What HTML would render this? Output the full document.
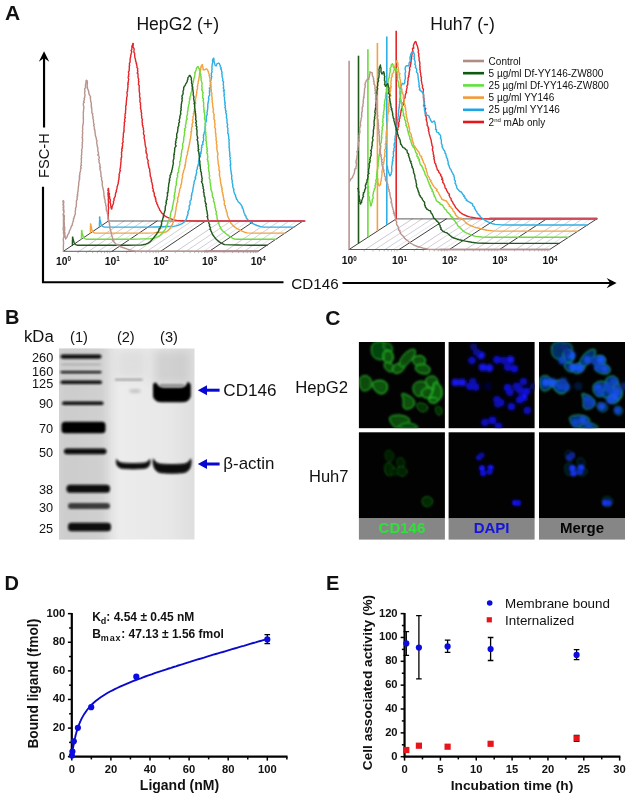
<!DOCTYPE html>
<html lang="en">
<head>
<meta charset="utf-8">
<title>Figure</title>
<style>
html,body{margin:0;padding:0;background:#fff;}
body{width:628px;height:797px;overflow:hidden;}
svg{display:block;font-family:"Liberation Sans",sans-serif;fill:#111;}
</style>
</head>
<body>
<svg width="628" height="797" viewBox="0 0 628 797">
<rect x="0" y="0" width="628" height="797" fill="#ffffff"/>
<g id="panelA" fill="none" stroke-linejoin="round" stroke-linecap="round">
<line x1="79.1" y1="251.3" x2="124.1" y2="221.0" stroke="#c6c2d0" stroke-width="0.9"/>
<line x1="88.6" y1="251.3" x2="133.6" y2="221.0" stroke="#d4c8cc" stroke-width="0.9"/>
<line x1="98.2" y1="251.3" x2="143.2" y2="221.0" stroke="#c4cad6" stroke-width="0.9"/>
<line x1="106.3" y1="251.3" x2="151.3" y2="221.0" stroke="#e6e1e4" stroke-width="0.9"/>
<line x1="127.7" y1="251.3" x2="172.7" y2="221.0" stroke="#c6c2d0" stroke-width="0.9"/>
<line x1="137.3" y1="251.3" x2="182.3" y2="221.0" stroke="#d4c8cc" stroke-width="0.9"/>
<line x1="146.9" y1="251.3" x2="191.9" y2="221.0" stroke="#c4cad6" stroke-width="0.9"/>
<line x1="154.9" y1="251.3" x2="199.9" y2="221.0" stroke="#e6e1e4" stroke-width="0.9"/>
<line x1="176.4" y1="251.3" x2="221.4" y2="221.0" stroke="#c6c2d0" stroke-width="0.9"/>
<line x1="185.9" y1="251.3" x2="230.9" y2="221.0" stroke="#d4c8cc" stroke-width="0.9"/>
<line x1="195.5" y1="251.3" x2="240.5" y2="221.0" stroke="#c4cad6" stroke-width="0.9"/>
<line x1="203.6" y1="251.3" x2="248.6" y2="221.0" stroke="#e6e1e4" stroke-width="0.9"/>
<line x1="225.0" y1="251.3" x2="270.0" y2="221.0" stroke="#c6c2d0" stroke-width="0.9"/>
<line x1="234.6" y1="251.3" x2="279.6" y2="221.0" stroke="#d4c8cc" stroke-width="0.9"/>
<line x1="244.2" y1="251.3" x2="289.2" y2="221.0" stroke="#c4cad6" stroke-width="0.9"/>
<line x1="252.2" y1="251.3" x2="297.2" y2="221.0" stroke="#e6e1e4" stroke-width="0.9"/>
<line x1="63.4" y1="251.3" x2="108.4" y2="221.0" stroke="#2a2a2a" stroke-width="0.9"/>
<line x1="112.0" y1="251.3" x2="157.1" y2="221.0" stroke="#2a2a2a" stroke-width="0.9"/>
<line x1="160.7" y1="251.3" x2="205.7" y2="221.0" stroke="#2a2a2a" stroke-width="0.9"/>
<line x1="209.3" y1="251.3" x2="254.3" y2="221.0" stroke="#2a2a2a" stroke-width="0.9"/>
<line x1="258.0" y1="251.3" x2="303.0" y2="221.0" stroke="#2a2a2a" stroke-width="0.9"/>
<line x1="63.4" y1="251.3" x2="258.0" y2="251.3" stroke="#333" stroke-width="0.8"/>
<line x1="108.4" y1="221.0" x2="303.0" y2="221.0" stroke="#333" stroke-width="0.8"/>
<line x1="78.0" y1="251.3" x2="78.0" y2="252.8" stroke="#777" stroke-width="0.5"/>
<line x1="86.6" y1="251.3" x2="86.6" y2="252.8" stroke="#777" stroke-width="0.5"/>
<line x1="92.7" y1="251.3" x2="92.7" y2="252.8" stroke="#777" stroke-width="0.5"/>
<line x1="97.4" y1="251.3" x2="97.4" y2="252.8" stroke="#777" stroke-width="0.5"/>
<line x1="101.3" y1="251.3" x2="101.3" y2="252.8" stroke="#777" stroke-width="0.5"/>
<line x1="104.5" y1="251.3" x2="104.5" y2="252.8" stroke="#777" stroke-width="0.5"/>
<line x1="107.3" y1="251.3" x2="107.3" y2="252.8" stroke="#777" stroke-width="0.5"/>
<line x1="109.8" y1="251.3" x2="109.8" y2="252.8" stroke="#777" stroke-width="0.5"/>
<line x1="126.7" y1="251.3" x2="126.7" y2="252.8" stroke="#777" stroke-width="0.5"/>
<line x1="135.3" y1="251.3" x2="135.3" y2="252.8" stroke="#777" stroke-width="0.5"/>
<line x1="141.3" y1="251.3" x2="141.3" y2="252.8" stroke="#777" stroke-width="0.5"/>
<line x1="146.1" y1="251.3" x2="146.1" y2="252.8" stroke="#777" stroke-width="0.5"/>
<line x1="149.9" y1="251.3" x2="149.9" y2="252.8" stroke="#777" stroke-width="0.5"/>
<line x1="153.2" y1="251.3" x2="153.2" y2="252.8" stroke="#777" stroke-width="0.5"/>
<line x1="156.0" y1="251.3" x2="156.0" y2="252.8" stroke="#777" stroke-width="0.5"/>
<line x1="158.5" y1="251.3" x2="158.5" y2="252.8" stroke="#777" stroke-width="0.5"/>
<line x1="175.3" y1="251.3" x2="175.3" y2="252.8" stroke="#777" stroke-width="0.5"/>
<line x1="183.9" y1="251.3" x2="183.9" y2="252.8" stroke="#777" stroke-width="0.5"/>
<line x1="190.0" y1="251.3" x2="190.0" y2="252.8" stroke="#777" stroke-width="0.5"/>
<line x1="194.7" y1="251.3" x2="194.7" y2="252.8" stroke="#777" stroke-width="0.5"/>
<line x1="198.6" y1="251.3" x2="198.6" y2="252.8" stroke="#777" stroke-width="0.5"/>
<line x1="201.8" y1="251.3" x2="201.8" y2="252.8" stroke="#777" stroke-width="0.5"/>
<line x1="204.6" y1="251.3" x2="204.6" y2="252.8" stroke="#777" stroke-width="0.5"/>
<line x1="207.1" y1="251.3" x2="207.1" y2="252.8" stroke="#777" stroke-width="0.5"/>
<line x1="224.0" y1="251.3" x2="224.0" y2="252.8" stroke="#777" stroke-width="0.5"/>
<line x1="232.6" y1="251.3" x2="232.6" y2="252.8" stroke="#777" stroke-width="0.5"/>
<line x1="238.6" y1="251.3" x2="238.6" y2="252.8" stroke="#777" stroke-width="0.5"/>
<line x1="243.4" y1="251.3" x2="243.4" y2="252.8" stroke="#777" stroke-width="0.5"/>
<line x1="247.2" y1="251.3" x2="247.2" y2="252.8" stroke="#777" stroke-width="0.5"/>
<line x1="250.5" y1="251.3" x2="250.5" y2="252.8" stroke="#777" stroke-width="0.5"/>
<line x1="253.3" y1="251.3" x2="253.3" y2="252.8" stroke="#777" stroke-width="0.5"/>
<line x1="255.8" y1="251.3" x2="255.8" y2="252.8" stroke="#777" stroke-width="0.5"/>
<path d="M108.4 221.0 L108.3 214.8 L108.3 212.8 L108.2 210.8 L108.7 207.7 L108.3 206.2 L108.3 204.3 L108.5 203.2 L108.4 200.5 L108.2 199.1 L108.6 197.6 L108.1 196.5 L108.3 195.4 L107.9 194.7 L108.1 194.1 L108.0 192.7 L108.3 192.6 L108.1 192.1 L108.5 191.6 L108.4 190.7 L107.8 190.2 L108.3 189.8 L108.4 189.6 L108.4 189.1 L108.0 189.0 L108.3 189.0 L108.2 189.0 L108.2 188.5 L108.7 188.5 L108.2 188.5 L108.4 188.7 L108.6 188.5 L108.3 189.1 L108.5 189.2 L108.8 191.0 L108.6 192.2 L109.1 193.4 L109.5 194.0 L109.0 195.3 L109.7 196.8 L109.7 198.6 L110.5 200.1 L110.0 202.0 L110.4 203.0 L110.7 204.4 L110.6 205.4 L111.0 206.7 L110.9 207.3 L111.6 208.8 L111.3 208.9 L111.7 209.0 L111.8 208.6 L112.1 207.7 L112.0 207.1 L113.3 203.7 L113.6 202.6 L113.3 201.8 L113.7 201.0 L114.2 200.0 L113.8 198.8 L114.4 198.0 L115.3 196.1 L115.4 194.4 L115.8 192.5 L116.5 191.5 L116.2 190.6 L116.5 190.2 L116.8 189.0 L117.1 187.4 L117.1 186.6 L117.6 185.6 L117.7 184.8 L118.2 183.7 L118.3 181.9 L118.6 181.4 L118.5 180.3 L119.0 179.3 L118.9 178.5 L119.2 177.6 L118.9 176.9 L119.4 175.6 L119.0 174.8 L119.1 174.0 L119.6 173.7 L119.6 172.5 L119.9 171.4 L120.5 170.7 L119.9 170.0 L120.1 168.7 L120.5 167.2 L120.5 166.2 L120.6 165.3 L120.9 163.8 L120.7 162.8 L121.0 161.7 L121.1 160.8 L120.9 159.4 L121.3 159.0 L121.1 158.0 L121.7 157.2 L121.6 156.3 L121.6 155.2 L121.5 154.1 L121.7 153.6 L121.4 152.5 L122.1 150.7 L121.6 149.8 L122.4 148.5 L121.8 148.3 L122.5 147.2 L122.2 146.5 L122.7 145.8 L122.6 144.5 L122.3 143.3 L123.0 142.5 L123.2 141.6 L122.9 140.8 L123.0 138.7 L122.9 138.3 L123.5 137.0 L123.2 136.5 L123.4 135.5 L123.3 134.6 L123.4 133.7 L123.4 132.7 L124.1 131.8 L123.8 130.7 L124.2 130.1 L123.9 128.7 L124.1 127.7 L124.1 126.7 L124.3 125.5 L124.4 123.8 L124.2 122.9 L124.4 122.0 L125.1 121.2 L124.6 120.2 L124.6 119.3 L125.4 117.5 L124.8 117.1 L125.1 115.7 L125.1 114.8 L124.9 114.1 L125.6 113.2 L125.5 111.9 L125.6 111.2 L125.5 110.5 L125.8 109.5 L125.7 108.6 L125.8 108.0 L125.7 106.6 L125.7 105.9 L126.4 104.9 L126.1 104.4 L126.3 102.8 L126.4 100.6 L126.7 99.7 L126.6 99.0 L126.7 97.5 L127.2 95.9 L127.2 94.3 L126.9 92.0 L127.5 91.4 L127.6 90.3 L127.4 89.6 L127.7 88.9 L128.0 86.1 L127.7 84.9 L128.3 84.2 L127.7 83.2 L128.3 82.3 L128.3 81.7 L128.4 80.6 L128.7 79.4 L128.7 79.0 L128.2 78.0 L128.1 77.2 L128.8 76.2 L128.4 75.4 L129.0 73.7 L128.5 72.7 L128.5 71.8 L129.2 70.9 L129.2 69.0 L129.4 68.1 L129.2 66.1 L129.6 65.7 L129.4 63.4 L130.0 62.4 L130.0 61.8 L130.2 60.9 L130.0 59.9 L130.2 59.2 L130.2 58.2 L130.8 56.2 L130.7 55.3 L131.1 54.3 L131.2 53.5 L131.8 51.6 L131.1 50.5 L131.9 49.3 L131.8 48.5 L132.0 47.1 L131.8 46.3 L132.7 44.7 L132.6 44.2 L132.8 43.9 L132.9 43.4 L133.4 43.6 L133.2 44.0 L132.8 44.6 L133.3 45.1 L133.1 45.6 L132.9 46.7 L134.2 49.0 L133.9 51.0 L134.0 52.5 L134.7 53.4 L134.6 54.5 L134.8 57.1 L135.5 59.5 L135.6 60.6 L135.6 61.2 L136.2 62.2 L136.2 63.5 L136.8 64.1 L136.5 64.7 L136.9 65.7 L137.1 66.6 L136.9 67.7 L137.7 68.3 L137.8 68.9 L137.4 70.1 L137.8 71.0 L137.8 71.9 L137.2 73.1 L138.0 73.8 L138.0 74.7 L138.1 75.3 L137.9 76.6 L138.3 78.3 L138.7 79.1 L138.5 80.0 L138.5 81.2 L139.0 81.6 L138.5 82.7 L138.6 83.7 L138.4 84.6 L139.2 85.3 L139.2 86.4 L139.2 88.1 L139.1 89.0 L139.2 89.7 L139.2 90.8 L139.4 92.4 L139.8 93.5 L139.6 95.1 L139.6 96.9 L140.2 98.2 L140.0 99.4 L139.9 101.8 L140.6 103.4 L140.3 104.6 L140.5 104.9 L140.6 106.3 L140.7 107.0 L140.4 108.2 L140.8 108.8 L140.8 109.6 L141.3 110.6 L141.0 111.6 L141.4 112.4 L141.7 113.4 L141.4 114.1 L141.4 114.7 L141.7 116.1 L141.8 117.0 L141.6 117.8 L142.5 119.8 L142.1 120.4 L142.2 121.2 L142.1 122.2 L142.6 123.4 L142.3 123.8 L142.4 125.2 L143.1 125.7 L142.7 126.5 L143.5 128.5 L143.3 129.2 L143.5 130.2 L143.9 131.4 L143.5 132.3 L143.5 134.0 L143.9 134.9 L144.4 135.5 L144.4 136.6 L144.0 137.4 L144.4 139.1 L144.7 140.1 L144.7 141.0 L145.1 142.7 L145.0 143.9 L145.4 145.7 L145.5 146.6 L146.2 148.6 L146.1 148.9 L146.1 150.1 L145.8 150.8 L146.4 152.1 L146.0 152.9 L146.3 153.1 L147.0 154.2 L147.1 155.4 L147.0 156.3 L146.8 157.2 L147.2 158.0 L147.3 158.9 L147.8 159.9 L148.3 160.6 L147.9 162.0 L148.0 163.4 L148.4 164.0 L148.5 165.3 L148.4 165.9 L148.9 166.7 L148.8 167.8 L149.5 168.5 L149.8 170.1 L149.6 171.3 L150.0 172.3 L150.3 175.0 L150.2 175.7 L150.4 176.6 L151.1 177.6 L151.0 178.6 L151.7 180.1 L151.2 181.0 L152.0 182.7 L152.2 183.9 L152.2 184.6 L152.7 185.6 L152.5 187.4 L152.7 188.3 L153.3 189.1 L153.4 190.4 L153.0 191.0 L154.0 192.2 L154.0 192.9 L154.4 193.5 L154.2 194.4 L154.4 195.5 L154.4 196.3 L155.5 197.1 L155.1 197.9 L155.8 198.5 L155.5 199.6 L156.0 200.1 L155.8 201.4 L157.0 202.9 L156.7 203.8 L157.6 204.7 L157.8 205.2 L157.8 206.0 L159.4 208.8 L159.7 210.1 L160.2 210.5 L160.8 211.5 L161.2 212.1 L161.8 213.0 L163.2 214.3 L163.6 215.0 L165.5 216.4 L166.3 216.7 L167.0 217.2 L170.3 218.7 L174.0 219.9 L176.8 220.4 L183.0 220.7 L189.3 220.9 L195.7 221.0 L202.0 221.0 L208.3 221.0 L214.6 221.0 L220.9 221.0 L227.2 221.0 L233.6 221.0 L239.9 221.0 L246.2 221.0 L252.5 221.0 L258.8 221.0 L265.1 221.0 L271.4 221.0 L277.7 221.0 L284.1 221.0 L290.4 221.0 L296.7 221.0 L303.0 221.0" stroke="#e3262a" stroke-width="1.40"/>
<path d="M99.4 227.1 L99.4 223.6 L99.7 219.0 L99.5 218.3 L99.5 217.6 L99.7 217.5 L99.4 217.3 L99.7 216.9 L99.8 217.8 L99.7 218.6 L100.6 221.8 L101.0 224.0 L101.3 224.8 L101.7 225.5 L102.4 226.2 L103.3 226.7 L104.2 227.0 L110.8 227.1 L116.9 227.1 L123.2 227.1 L129.7 227.1 L136.3 227.1 L142.8 227.1 L149.2 227.1 L155.6 227.0 L162.0 226.8 L168.4 226.5 L174.5 226.1 L176.2 225.9 L178.1 225.4 L180.9 224.2 L182.6 223.3 L184.0 222.1 L184.7 221.7 L184.8 221.1 L185.4 220.6 L185.6 219.9 L186.1 219.4 L186.5 218.7 L186.6 217.9 L187.1 217.1 L186.9 216.3 L187.7 215.5 L187.5 214.6 L188.1 213.9 L188.2 212.7 L187.7 212.2 L189.3 208.9 L189.2 207.9 L189.3 207.4 L189.1 205.9 L190.0 204.8 L190.2 203.9 L190.0 203.0 L190.1 202.5 L189.9 201.2 L190.7 200.4 L191.4 199.1 L191.1 198.5 L191.4 197.6 L191.5 197.0 L191.3 195.6 L192.0 195.0 L191.6 194.0 L192.7 191.3 L192.8 190.0 L193.0 189.7 L192.9 188.8 L193.0 187.7 L193.5 186.7 L193.5 185.2 L193.7 184.5 L194.1 183.7 L194.0 182.4 L194.3 181.8 L194.4 180.7 L195.0 179.9 L195.2 179.0 L195.8 178.1 L195.1 177.4 L195.5 176.4 L196.1 175.4 L196.0 174.5 L196.2 173.8 L196.8 172.6 L196.5 171.8 L196.5 171.0 L196.6 170.1 L197.2 169.3 L197.4 168.3 L197.2 167.9 L197.5 166.9 L198.0 165.8 L198.2 164.9 L198.1 164.4 L198.6 163.2 L198.8 162.2 L198.4 161.4 L199.3 159.9 L199.3 158.7 L199.1 158.2 L199.7 156.8 L200.2 156.2 L200.5 155.0 L199.8 154.6 L201.2 153.3 L200.5 152.5 L201.1 151.8 L201.4 151.0 L201.5 148.9 L201.4 147.8 L202.0 147.2 L201.6 145.4 L203.0 144.4 L202.7 143.6 L203.1 142.6 L202.6 142.0 L203.3 141.3 L203.7 139.2 L203.3 137.6 L203.7 136.4 L203.3 135.7 L203.6 134.6 L204.2 134.0 L204.1 133.0 L204.4 132.1 L204.5 131.3 L205.2 130.3 L205.1 129.2 L204.9 128.7 L205.4 127.7 L205.0 126.7 L205.7 125.2 L205.3 123.9 L205.6 123.1 L205.5 122.6 L206.0 121.7 L206.5 120.4 L206.0 119.4 L206.4 118.6 L206.2 117.7 L206.4 116.1 L207.1 114.9 L207.4 114.0 L207.1 113.5 L206.9 112.3 L207.4 111.6 L207.2 110.8 L207.6 109.9 L207.6 108.8 L207.9 106.9 L207.7 106.5 L207.9 105.4 L207.7 104.2 L208.1 103.5 L208.0 102.8 L208.4 101.8 L208.3 101.2 L208.7 100.2 L208.9 98.9 L208.5 98.1 L208.8 96.4 L209.4 95.5 L209.7 95.1 L209.4 92.4 L209.9 91.7 L209.3 91.0 L210.2 89.8 L209.3 88.2 L210.7 87.5 L210.6 86.5 L210.1 85.4 L210.5 84.9 L210.5 83.7 L210.6 82.8 L210.4 81.8 L210.6 81.0 L211.0 80.4 L211.1 79.0 L211.4 78.4 L211.2 77.7 L211.9 76.6 L211.2 75.8 L211.6 74.6 L211.2 74.1 L211.4 73.1 L212.1 71.8 L211.7 70.3 L212.1 69.2 L211.9 67.4 L212.1 65.9 L212.3 63.5 L212.7 62.6 L212.7 61.6 L212.5 60.8 L212.6 59.7 L213.0 59.5 L213.0 59.1 L213.4 58.3 L214.0 58.1 L213.7 58.4 L213.7 58.8 L213.9 59.3 L214.0 61.1 L215.0 65.0 L215.3 65.5 L216.1 65.9 L216.6 64.8 L216.9 63.8 L218.4 63.0 L219.4 63.6 L219.8 64.9 L220.3 65.6 L220.2 66.4 L220.6 67.1 L221.3 67.9 L220.6 68.9 L221.3 69.4 L221.6 70.6 L221.5 70.9 L221.8 71.9 L222.1 72.5 L221.7 73.6 L222.1 74.6 L222.0 75.7 L222.1 76.1 L222.3 77.2 L222.9 79.6 L222.5 80.8 L223.5 81.3 L223.4 83.5 L223.2 84.3 L223.6 86.0 L223.6 87.6 L223.2 87.9 L223.9 89.4 L224.5 90.2 L223.4 90.9 L224.2 91.7 L224.0 94.1 L224.5 94.6 L223.9 95.6 L224.3 96.8 L224.7 97.6 L224.4 98.8 L224.7 100.4 L224.6 101.0 L225.2 102.5 L224.7 102.9 L225.2 103.5 L224.8 104.8 L225.4 105.7 L225.3 107.0 L224.8 107.4 L225.5 108.4 L225.4 109.4 L225.6 110.5 L226.2 111.1 L225.7 112.2 L225.8 113.0 L226.5 113.7 L226.3 114.7 L226.7 115.6 L226.3 117.6 L226.6 118.0 L227.0 119.4 L227.1 120.2 L226.9 120.9 L227.1 122.7 L227.1 123.7 L227.8 124.7 L227.4 125.5 L227.2 126.5 L227.8 128.2 L227.9 128.7 L227.8 130.8 L228.0 131.6 L227.7 132.8 L227.9 133.6 L228.5 133.9 L228.3 135.3 L228.6 135.9 L228.8 137.3 L228.7 138.8 L229.3 139.8 L229.0 140.6 L228.9 141.7 L229.2 142.6 L229.2 143.6 L229.0 144.1 L229.3 145.9 L228.9 147.0 L229.4 148.1 L229.5 149.5 L229.3 150.5 L229.6 151.4 L229.9 153.5 L229.6 153.9 L230.1 155.2 L229.7 156.1 L230.0 157.0 L230.5 157.9 L230.0 159.0 L230.1 159.7 L230.6 160.7 L230.3 161.5 L230.4 162.7 L230.5 162.9 L230.8 164.4 L230.1 165.0 L230.5 165.9 L230.7 169.4 L231.1 170.5 L230.9 171.0 L231.4 173.2 L231.2 173.9 L231.9 175.6 L231.7 176.5 L231.6 177.5 L231.8 178.5 L231.7 179.3 L232.1 180.0 L232.4 181.1 L232.1 181.9 L232.3 183.0 L232.8 184.2 L232.6 184.9 L232.9 185.6 L232.7 186.3 L233.2 188.1 L234.0 189.4 L233.6 190.0 L234.0 191.9 L234.9 194.4 L235.6 195.3 L235.4 196.1 L236.0 197.2 L236.0 197.7 L236.4 198.4 L236.4 199.1 L237.2 199.8 L238.3 202.0 L238.5 202.0 L239.8 203.1 L240.1 203.7 L240.7 204.2 L241.7 205.8 L242.2 206.6 L242.1 207.9 L242.6 208.0 L243.2 209.3 L244.1 213.0 L245.1 214.6 L245.0 215.5 L245.9 215.9 L246.3 218.0 L247.0 218.5 L247.2 219.2 L247.8 219.6 L248.5 220.4 L250.7 222.4 L251.5 222.8 L252.2 223.4 L257.1 225.5 L260.6 226.6 L263.4 227.0 L269.6 227.1 L275.8 227.1 L282.1 227.1 L288.5 227.1 L294.0 227.1" stroke="#2fb0e4" stroke-width="1.40"/>
<path d="M90.4 233.1 L90.4 227.3 L90.6 225.3 L90.7 224.8 L90.4 224.2 L90.6 223.9 L90.8 224.3 L91.0 225.6 L91.3 226.6 L91.6 229.1 L92.3 231.0 L92.8 231.6 L93.5 232.3 L94.4 232.8 L95.2 233.1 L101.9 233.1 L108.0 233.1 L114.4 233.1 L120.9 233.1 L127.4 233.1 L133.9 233.1 L140.3 233.1 L146.9 233.1 L153.6 232.9 L159.9 232.5 L165.5 232.0 L166.2 231.8 L167.0 231.3 L168.5 230.1 L170.5 227.7 L171.8 225.4 L172.0 224.7 L172.7 224.1 L172.6 223.3 L173.2 222.4 L173.4 221.5 L173.2 220.8 L173.9 219.3 L174.2 217.2 L174.9 216.3 L174.8 215.8 L175.2 214.7 L175.1 213.7 L175.5 213.0 L175.4 211.8 L176.0 210.0 L176.1 207.0 L176.5 206.2 L176.7 205.2 L176.8 203.5 L177.9 201.4 L177.4 200.8 L177.9 199.0 L177.4 198.1 L178.2 197.2 L178.2 196.7 L178.9 195.5 L178.7 194.7 L178.8 193.7 L179.4 192.1 L179.4 191.2 L179.7 189.9 L179.6 189.5 L180.9 186.7 L180.8 185.5 L180.9 184.6 L181.3 184.3 L181.5 183.1 L181.8 181.9 L181.8 181.4 L181.7 180.4 L182.6 176.9 L182.4 175.1 L182.9 174.3 L182.8 173.5 L183.5 172.1 L183.6 171.5 L183.4 170.6 L184.2 169.6 L184.4 168.8 L184.4 168.0 L185.0 167.1 L185.2 166.0 L184.6 165.3 L185.4 164.9 L185.4 163.4 L185.6 162.4 L185.9 161.9 L185.7 161.1 L185.9 160.2 L186.1 159.0 L186.6 157.3 L186.5 156.4 L186.8 155.6 L187.3 154.8 L187.4 154.1 L187.7 153.2 L187.3 152.2 L187.8 151.5 L188.0 150.4 L188.3 149.7 L188.3 148.4 L188.9 147.4 L188.8 147.0 L189.2 145.0 L189.5 144.2 L189.4 143.2 L189.9 142.3 L190.0 140.2 L190.3 139.3 L190.7 137.1 L190.7 136.3 L191.0 135.6 L190.9 134.2 L191.3 133.5 L191.2 132.6 L190.8 131.8 L191.7 130.9 L191.4 129.0 L191.7 128.2 L191.7 127.1 L192.5 126.2 L191.9 124.5 L192.5 123.5 L192.4 123.1 L193.1 121.9 L192.3 120.3 L193.0 119.1 L193.1 117.4 L192.8 116.6 L193.6 115.7 L194.0 114.6 L193.2 113.8 L194.1 113.3 L193.8 111.6 L194.6 111.2 L194.3 110.3 L194.3 109.2 L194.7 108.2 L194.6 106.6 L195.0 106.2 L194.7 104.0 L195.7 103.2 L195.3 102.3 L195.3 101.5 L195.7 100.5 L195.3 99.6 L195.5 98.7 L195.8 98.0 L196.2 95.8 L196.6 94.9 L196.3 94.2 L196.7 93.1 L196.9 92.3 L196.6 91.3 L197.0 90.5 L196.9 89.8 L197.5 89.0 L197.5 87.4 L197.3 86.1 L197.8 85.8 L197.7 84.5 L198.2 83.5 L198.2 81.1 L198.7 80.7 L198.8 79.9 L198.7 79.4 L199.3 77.8 L199.1 77.5 L199.2 76.1 L199.5 75.2 L199.5 73.4 L199.7 72.8 L200.0 71.5 L200.6 70.6 L200.8 69.3 L200.5 68.1 L201.2 67.5 L201.0 66.6 L201.3 65.9 L201.7 65.4 L201.8 65.1 L202.5 64.7 L202.3 64.7 L202.2 65.5 L203.0 67.1 L202.9 68.3 L203.3 69.3 L203.0 69.8 L204.5 69.9 L206.2 68.9 L206.9 69.2 L207.8 70.4 L207.9 71.0 L208.5 71.7 L208.4 72.3 L208.7 73.2 L209.2 74.3 L209.3 75.1 L209.0 75.7 L209.6 76.6 L209.7 78.1 L210.1 79.4 L209.9 81.4 L211.0 82.7 L210.3 83.8 L210.8 84.5 L211.0 85.2 L211.1 86.2 L210.8 87.3 L211.5 90.3 L211.3 91.2 L211.2 92.0 L211.8 92.9 L211.9 93.8 L211.7 95.9 L212.0 96.7 L212.0 97.7 L212.3 98.5 L211.9 99.2 L212.3 100.2 L212.3 101.4 L212.2 102.3 L212.6 103.4 L212.6 105.1 L212.9 106.1 L212.6 106.9 L213.0 107.5 L213.2 108.5 L213.3 109.4 L213.6 110.1 L213.1 111.3 L213.1 112.3 L213.7 112.9 L213.8 114.3 L214.3 114.7 L213.8 116.5 L214.2 117.3 L213.9 118.4 L213.9 119.3 L214.9 120.5 L214.5 121.2 L214.7 122.8 L215.1 123.5 L214.8 124.6 L215.1 125.4 L214.7 126.6 L214.7 127.3 L215.4 128.6 L215.5 129.3 L215.4 130.2 L215.5 131.9 L215.3 132.9 L216.0 133.8 L215.8 134.4 L215.9 136.8 L216.2 137.2 L216.1 138.1 L216.3 138.9 L215.9 139.7 L216.4 141.1 L216.9 141.7 L216.3 142.7 L216.5 143.9 L217.0 145.2 L217.0 146.4 L216.5 147.2 L217.1 148.1 L216.8 149.0 L216.9 149.8 L217.4 151.0 L217.2 151.7 L217.6 152.6 L218.2 153.7 L217.7 154.5 L217.8 155.3 L217.5 156.2 L217.6 157.4 L217.6 158.0 L217.8 158.8 L217.8 159.6 L218.2 161.3 L218.1 163.4 L218.7 165.1 L218.7 166.1 L219.0 166.9 L219.1 167.6 L218.9 168.9 L219.2 169.5 L218.8 170.3 L219.8 171.2 L219.3 174.3 L219.8 175.0 L219.3 175.6 L219.7 176.6 L220.2 177.5 L220.1 179.1 L220.6 180.3 L220.3 181.3 L220.7 182.1 L220.8 183.7 L221.2 184.5 L221.0 185.5 L221.9 186.8 L221.5 187.6 L222.2 188.2 L221.7 189.4 L222.3 190.0 L222.0 191.3 L222.1 192.0 L222.7 192.7 L222.9 193.8 L222.6 194.4 L223.4 195.3 L223.1 196.0 L223.9 199.0 L223.5 199.8 L224.5 201.0 L224.3 202.4 L224.3 204.6 L224.6 205.3 L225.3 205.7 L225.3 208.0 L226.4 210.0 L226.2 210.3 L226.3 211.6 L227.1 212.3 L227.1 213.6 L227.3 214.2 L227.5 215.9 L228.3 217.5 L228.7 218.4 L229.2 219.2 L229.9 221.2 L230.3 221.7 L230.7 223.1 L231.5 223.7 L232.0 224.6 L233.9 226.4 L237.1 228.7 L240.3 230.4 L244.5 232.2 L247.1 232.9 L253.3 233.1 L259.5 233.1 L265.7 233.1 L272.0 233.1 L278.5 233.1 L285.0 233.1" stroke="#f2a340" stroke-width="1.40"/>
<path d="M81.4 239.2 L81.5 234.5 L81.6 231.2 L81.5 230.7 L81.8 230.5 L82.1 232.7 L82.5 233.8 L83.0 236.1 L83.3 237.0 L83.8 237.7 L84.5 238.3 L85.3 238.9 L86.2 239.2 L92.8 239.2 L99.0 239.2 L105.4 239.2 L111.9 239.2 L118.4 239.2 L124.9 239.2 L131.3 239.2 L137.7 239.1 L144.0 238.9 L150.3 238.7 L153.9 238.1 L158.1 236.6 L159.5 235.8 L161.6 233.9 L162.2 233.1 L162.9 232.4 L165.2 229.4 L165.6 228.6 L165.8 227.6 L166.8 226.1 L167.3 224.5 L167.4 223.8 L167.6 222.6 L168.5 221.7 L168.9 221.1 L169.2 220.4 L169.0 219.6 L169.8 218.8 L169.7 218.0 L170.2 217.0 L170.4 216.0 L170.4 215.0 L170.6 214.1 L170.5 213.3 L171.0 212.6 L171.0 211.7 L171.7 210.8 L171.9 209.9 L172.3 209.1 L172.3 207.3 L172.7 206.4 L172.7 205.4 L173.1 204.4 L173.2 203.8 L173.1 202.9 L173.5 201.9 L173.7 200.6 L174.1 199.1 L174.5 198.3 L174.1 197.5 L174.3 196.4 L174.0 195.7 L174.6 195.1 L174.7 194.1 L174.4 193.1 L175.1 192.2 L175.3 191.2 L175.1 190.5 L175.3 189.4 L175.3 188.5 L175.8 187.7 L175.4 186.9 L175.8 185.9 L176.5 185.1 L176.1 183.7 L176.4 183.4 L176.3 181.6 L176.9 179.4 L176.7 178.8 L177.2 177.6 L177.6 177.1 L177.7 176.0 L177.3 175.4 L177.6 174.5 L177.6 173.0 L178.4 172.6 L178.5 171.5 L178.7 170.5 L178.5 169.7 L178.6 168.9 L179.0 168.3 L179.2 166.9 L179.2 166.5 L179.6 165.8 L179.8 164.6 L179.9 163.7 L179.7 161.6 L180.3 161.1 L180.5 160.2 L180.8 157.6 L181.2 156.6 L181.2 155.9 L181.4 154.5 L181.2 153.6 L181.8 151.9 L181.6 151.3 L181.7 150.2 L182.6 148.8 L182.5 147.7 L182.9 146.6 L182.6 145.9 L182.7 145.1 L182.6 143.8 L182.9 143.2 L183.5 142.4 L183.4 141.4 L183.6 140.8 L183.7 139.8 L183.7 138.5 L183.9 136.7 L184.2 136.1 L184.3 134.9 L184.4 134.4 L184.5 133.4 L184.4 132.6 L184.6 131.5 L184.6 130.3 L185.2 130.1 L184.5 128.8 L185.1 128.2 L185.9 127.1 L185.4 126.3 L185.3 125.6 L185.7 124.4 L186.1 123.7 L185.9 122.3 L186.2 121.8 L186.3 119.9 L187.3 119.0 L186.7 118.2 L186.8 116.0 L187.2 115.5 L187.3 114.4 L187.6 113.9 L187.6 112.7 L187.3 112.0 L188.0 110.9 L187.9 110.2 L188.1 109.4 L187.9 108.2 L188.3 107.4 L188.4 106.3 L188.7 105.7 L188.6 104.9 L189.3 103.2 L189.1 101.7 L189.4 100.9 L189.5 100.1 L190.1 99.3 L189.4 98.5 L190.1 97.6 L190.0 96.8 L190.4 96.0 L190.9 94.9 L190.7 93.9 L191.1 93.0 L191.0 92.7 L191.8 91.0 L191.8 90.5 L192.0 89.9 L191.6 88.9 L191.8 87.7 L192.5 87.0 L192.4 86.3 L192.8 84.2 L192.6 83.6 L193.3 82.6 L193.3 81.9 L193.6 81.1 L193.5 79.9 L194.0 78.8 L193.8 78.2 L194.4 77.6 L195.1 73.5 L194.5 73.0 L195.6 71.8 L195.6 71.1 L196.2 69.7 L196.4 68.2 L197.9 66.6 L198.5 67.0 L198.4 67.3 L198.7 68.2 L199.7 69.0 L199.4 70.2 L200.4 71.6 L200.1 72.3 L200.0 73.3 L200.6 74.1 L201.0 74.8 L200.4 75.5 L201.2 76.9 L200.9 77.6 L201.4 78.7 L201.1 79.0 L200.9 79.9 L201.5 80.8 L201.7 81.9 L202.1 83.2 L202.1 84.0 L201.8 85.7 L201.9 86.7 L202.0 87.4 L201.9 88.5 L202.2 89.3 L201.7 89.8 L202.5 91.0 L202.5 92.3 L203.2 92.8 L202.6 94.6 L203.0 95.5 L202.6 96.7 L202.9 97.3 L202.6 98.1 L203.5 98.6 L203.4 100.0 L203.0 100.6 L203.4 101.5 L203.7 102.9 L203.7 104.2 L203.5 105.7 L203.6 106.5 L203.8 107.1 L204.1 108.3 L203.8 108.8 L203.8 109.8 L204.4 110.6 L203.9 111.6 L204.5 112.9 L204.4 113.3 L204.8 115.2 L204.7 116.3 L204.7 117.1 L204.4 118.3 L204.5 118.9 L204.9 119.6 L205.2 120.7 L205.2 121.7 L205.5 122.4 L205.1 123.6 L205.1 124.7 L205.4 125.2 L205.2 126.2 L205.2 127.4 L205.1 127.9 L205.6 128.7 L205.2 129.6 L205.6 130.8 L205.2 131.7 L205.9 132.5 L205.5 133.4 L206.0 134.6 L205.5 135.4 L205.8 135.8 L206.3 137.0 L205.8 137.9 L206.1 138.9 L206.1 139.7 L205.7 140.5 L206.4 141.4 L206.5 142.1 L206.2 143.3 L206.7 144.1 L206.4 145.2 L206.5 145.8 L206.8 146.8 L206.7 147.6 L207.5 148.5 L206.7 149.7 L207.3 150.4 L207.4 151.5 L206.8 152.1 L206.9 153.2 L207.6 153.8 L207.4 154.9 L207.9 156.9 L207.6 157.7 L207.6 158.6 L207.2 159.7 L208.0 160.4 L207.8 161.4 L208.2 162.4 L208.3 163.1 L208.0 163.9 L208.8 165.0 L208.7 166.8 L208.3 167.8 L208.6 168.7 L208.8 170.1 L208.7 171.2 L209.2 172.1 L209.2 173.2 L209.3 173.8 L209.2 174.8 L209.8 175.8 L209.6 176.5 L209.0 177.5 L209.6 178.7 L209.8 179.6 L210.2 180.3 L210.0 181.1 L210.1 181.8 L210.1 183.0 L210.6 183.8 L210.4 184.7 L210.6 186.4 L211.0 187.3 L210.8 189.4 L211.5 190.0 L211.3 190.5 L211.7 191.6 L212.3 193.4 L212.4 194.5 L212.2 195.4 L212.5 196.0 L212.5 197.1 L213.4 197.8 L213.3 198.5 L213.8 199.4 L213.4 201.7 L214.4 202.1 L214.3 203.4 L215.2 206.6 L214.9 207.6 L215.7 208.7 L215.5 209.5 L215.7 210.6 L216.4 211.5 L216.2 213.2 L216.0 214.0 L216.7 215.1 L217.0 215.7 L217.0 216.9 L216.9 217.8 L217.2 218.5 L217.3 219.9 L217.9 220.2 L218.2 221.1 L218.5 222.2 L218.3 222.6 L219.2 224.3 L219.2 225.2 L219.6 226.1 L220.4 227.0 L220.4 227.8 L220.9 228.5 L221.2 229.3 L221.9 229.9 L222.2 230.4 L223.1 231.3 L224.0 231.8 L224.7 232.4 L225.4 233.2 L228.1 235.3 L228.9 235.8 L231.2 237.5 L232.9 238.4 L234.6 239.0 L236.3 239.2 L243.1 239.2 L249.1 239.2 L255.3 239.2 L261.7 239.2 L268.3 239.2 L275.0 239.2 L276.0 239.2" stroke="#6ddc3c" stroke-width="1.40"/>
<path d="M72.4 245.2 L72.4 240.5 L72.6 239.5 L72.5 237.8 L72.9 237.4 L72.5 237.1 L72.8 237.1 L72.9 238.9 L73.4 239.9 L73.6 241.0 L74.3 243.0 L74.7 243.7 L75.4 244.4 L76.3 244.9 L77.1 245.2 L83.8 245.2 L89.9 245.2 L96.3 245.2 L102.8 245.2 L109.4 245.2 L115.9 245.2 L122.2 245.2 L128.6 245.2 L134.9 245.1 L141.2 245.0 L143.0 244.8 L145.7 244.2 L148.1 243.2 L149.6 242.2 L150.9 240.9 L151.5 240.3 L152.2 239.6 L153.0 238.8 L153.3 238.2 L154.1 237.5 L154.3 236.7 L154.8 236.3 L156.8 234.0 L157.1 232.9 L158.3 231.9 L158.9 230.7 L158.9 229.0 L160.0 228.5 L160.2 227.6 L160.8 226.1 L161.6 225.1 L161.3 224.4 L161.7 223.4 L161.4 222.2 L161.9 221.6 L162.5 219.6 L162.8 219.2 L162.8 218.1 L163.6 217.3 L163.2 216.1 L163.9 214.6 L163.8 213.6 L164.4 212.8 L164.6 211.3 L165.3 210.0 L165.1 208.9 L165.3 208.2 L165.3 206.8 L165.9 204.9 L166.1 203.8 L166.5 203.5 L165.9 202.3 L166.4 201.7 L166.3 200.2 L167.2 199.7 L166.9 198.5 L167.0 197.9 L167.0 197.0 L167.6 195.6 L167.4 194.8 L167.7 193.9 L167.2 192.9 L168.1 192.2 L168.0 191.2 L168.2 190.2 L168.4 189.6 L168.2 188.8 L168.3 187.6 L168.6 186.8 L168.6 185.1 L168.8 184.1 L168.8 183.5 L169.2 182.6 L169.4 181.7 L169.3 180.6 L169.9 180.2 L169.3 179.2 L169.8 177.9 L170.4 177.1 L170.1 176.5 L170.0 175.3 L170.9 174.6 L171.0 172.7 L171.8 172.0 L171.7 170.9 L171.8 170.2 L172.3 169.0 L172.3 168.0 L172.7 167.1 L172.6 166.0 L173.0 165.3 L173.1 164.4 L173.4 163.5 L173.2 162.5 L173.1 161.3 L173.2 160.6 L173.5 159.5 L174.0 158.5 L173.9 157.6 L173.7 157.0 L174.1 156.2 L173.7 154.9 L174.4 154.5 L174.1 153.6 L174.5 152.3 L174.6 151.4 L174.5 150.6 L174.8 149.9 L174.6 148.8 L174.9 147.7 L176.2 145.8 L175.5 145.3 L175.4 143.6 L176.0 142.7 L175.5 141.8 L176.3 140.0 L176.0 138.9 L176.8 138.1 L176.9 137.2 L176.6 136.6 L176.7 135.8 L176.7 134.7 L176.8 133.5 L177.4 132.7 L177.8 130.2 L177.7 129.2 L178.1 128.2 L177.8 127.6 L178.8 125.7 L178.9 124.8 L178.6 124.2 L178.8 123.0 L179.4 122.4 L179.6 121.5 L179.0 120.3 L179.4 119.6 L180.0 117.5 L179.7 116.7 L180.2 115.7 L180.1 115.1 L180.9 114.1 L180.6 113.3 L180.6 110.8 L181.1 110.6 L181.2 109.3 L180.8 108.8 L181.3 107.6 L181.0 106.9 L181.3 106.2 L181.2 104.7 L181.6 103.2 L181.6 101.9 L182.0 101.5 L182.2 100.4 L181.9 98.4 L182.5 98.2 L181.9 96.6 L182.1 95.5 L182.8 94.7 L183.2 93.0 L182.9 91.2 L183.3 90.6 L183.7 89.6 L183.6 88.5 L183.8 87.8 L183.9 87.1 L184.2 86.5 L184.9 85.7 L185.4 84.8 L185.6 84.2 L186.1 83.4 L186.6 82.8 L187.3 81.2 L187.3 80.3 L187.9 79.3 L187.8 77.9 L189.0 76.3 L189.4 75.6 L189.2 75.4 L190.1 75.5 L190.7 76.9 L190.8 76.8 L191.3 77.8 L191.4 78.7 L191.2 79.4 L191.7 81.4 L191.5 82.5 L191.8 83.8 L192.4 84.6 L191.9 85.9 L192.7 87.0 L192.7 89.3 L193.0 90.3 L193.1 91.8 L193.4 93.1 L193.1 94.1 L193.4 95.6 L194.0 97.0 L193.6 98.4 L194.3 102.1 L194.8 102.9 L194.0 103.7 L194.7 104.8 L194.5 106.7 L194.7 107.6 L194.9 109.1 L195.2 110.0 L194.7 110.8 L195.5 111.7 L195.1 112.8 L195.7 113.7 L195.5 114.3 L195.8 115.4 L195.7 116.5 L195.9 117.1 L195.6 119.4 L196.5 121.5 L195.6 122.8 L196.1 123.4 L196.5 124.5 L196.0 125.3 L196.3 126.4 L196.9 126.7 L196.8 127.7 L196.4 128.8 L197.0 130.1 L197.0 133.6 L196.9 134.3 L197.0 135.2 L197.4 136.3 L197.4 137.3 L197.9 138.0 L197.0 139.8 L197.6 140.6 L197.8 141.4 L197.9 143.3 L197.8 144.2 L198.5 145.4 L198.0 146.2 L198.5 147.1 L198.3 147.6 L198.2 148.9 L198.9 149.5 L198.0 150.4 L198.5 151.3 L198.9 152.6 L198.8 153.4 L199.2 154.0 L199.1 154.8 L199.1 156.0 L199.8 156.8 L199.3 158.1 L199.4 158.4 L199.3 159.2 L199.5 160.4 L199.9 161.3 L199.8 164.4 L200.3 164.9 L199.8 165.7 L200.2 166.4 L200.4 167.7 L200.3 168.7 L200.7 169.3 L200.6 170.5 L200.6 171.2 L201.4 172.4 L201.2 173.0 L201.5 173.7 L201.3 174.6 L201.6 175.4 L201.9 177.5 L202.3 178.5 L201.8 179.6 L202.0 180.1 L202.1 181.0 L201.4 181.7 L202.5 183.8 L202.8 184.5 L202.6 185.6 L203.3 186.9 L203.0 188.3 L203.6 189.1 L203.8 189.9 L203.4 192.1 L204.2 192.9 L203.9 193.9 L204.2 195.2 L204.2 196.4 L204.8 196.9 L204.8 197.8 L205.1 198.5 L205.1 200.1 L204.9 200.9 L205.6 202.5 L205.4 203.2 L206.4 204.1 L205.8 205.2 L205.8 205.9 L206.4 207.1 L206.5 209.8 L206.8 210.5 L207.2 212.2 L207.1 212.8 L207.4 214.2 L207.6 214.8 L207.7 216.2 L207.0 216.6 L207.6 217.4 L207.8 218.7 L208.4 220.5 L208.7 221.1 L208.8 222.9 L209.1 223.9 L209.7 224.7 L209.3 225.7 L209.8 226.8 L210.3 227.3 L210.2 228.4 L209.9 229.3 L210.7 229.6 L210.8 230.6 L211.2 231.5 L211.8 232.3 L212.0 233.3 L213.4 235.8 L214.5 237.1 L216.2 239.3 L218.9 241.6 L221.3 243.1 L223.0 244.0 L224.7 244.6 L231.4 244.9 L237.5 245.0 L243.6 245.1 L249.9 245.2 L256.4 245.2 L263.1 245.2 L267.0 245.2" stroke="#1f5a1c" stroke-width="1.40"/>
<path d="M63.4 251.3 L63.4 245.1 L63.6 243.3 L63.5 241.3 L63.2 239.4 L63.9 236.3 L63.8 234.3 L63.4 233.0 L63.6 231.4 L63.1 228.7 L63.5 226.5 L63.5 225.3 L63.5 223.8 L63.4 222.7 L63.5 221.2 L63.3 220.2 L63.5 219.3 L63.6 218.0 L63.4 216.8 L63.6 216.1 L63.0 214.7 L63.7 212.9 L63.8 212.1 L63.5 211.3 L63.4 210.5 L63.1 209.7 L63.5 208.8 L63.6 208.2 L63.0 207.7 L63.5 207.0 L63.5 205.8 L63.1 205.2 L63.5 204.9 L63.0 204.5 L63.8 204.0 L63.4 203.5 L63.1 203.3 L63.7 202.7 L63.7 202.1 L63.2 202.3 L63.9 201.8 L63.2 201.7 L63.5 201.5 L63.7 201.6 L62.9 201.1 L63.6 201.3 L63.4 201.1 L63.4 200.9 L63.1 200.7 L63.5 201.1 L63.1 201.1 L63.3 201.7 L63.1 201.7 L63.8 202.2 L63.1 202.7 L63.8 206.4 L63.6 207.8 L63.6 208.9 L64.0 210.9 L64.0 212.2 L63.5 214.4 L64.5 215.8 L64.3 216.9 L64.2 218.1 L64.3 219.5 L64.1 220.3 L64.1 221.7 L64.3 222.6 L64.3 224.7 L64.2 225.6 L64.5 226.4 L64.8 227.5 L64.6 228.7 L64.8 230.0 L64.3 231.3 L64.8 232.6 L64.9 233.4 L64.7 235.4 L65.3 236.2 L65.1 237.2 L65.5 238.0 L65.4 238.3 L65.7 238.6 L65.6 239.1 L65.6 238.7 L66.2 238.0 L66.5 238.0 L67.2 236.7 L67.4 235.6 L68.6 233.3 L69.1 232.8 L69.3 231.3 L70.4 229.0 L70.7 228.5 L71.0 227.1 L71.6 225.8 L72.5 225.0 L72.2 224.2 L72.5 223.3 L72.7 222.8 L73.1 221.4 L73.5 220.7 L73.4 218.8 L74.2 218.0 L74.0 217.1 L74.6 216.2 L74.7 215.2 L75.2 214.4 L75.4 213.4 L75.3 212.9 L75.2 211.4 L75.7 209.5 L75.4 208.3 L76.0 207.3 L76.4 205.7 L76.2 204.9 L76.5 203.7 L76.4 203.2 L76.5 201.9 L76.3 201.2 L76.9 199.9 L77.3 199.2 L77.1 198.6 L77.2 197.5 L77.0 196.6 L77.7 195.9 L77.2 194.8 L77.7 194.2 L77.7 192.6 L77.5 192.3 L78.1 191.4 L78.0 190.1 L78.3 188.7 L78.3 186.7 L78.6 186.0 L78.6 184.9 L78.8 184.2 L78.7 182.4 L79.0 181.6 L79.4 179.2 L79.8 178.8 L79.2 177.8 L79.8 176.8 L79.3 176.3 L79.7 174.8 L80.0 174.6 L79.7 173.2 L80.4 171.6 L80.6 169.8 L80.5 168.9 L81.3 168.1 L80.8 167.3 L80.7 166.0 L81.4 165.4 L81.0 163.4 L81.4 162.4 L81.3 161.5 L81.4 160.9 L81.4 160.0 L81.1 158.8 L81.7 157.8 L81.5 157.4 L81.3 156.0 L81.4 155.4 L81.8 154.3 L81.6 153.3 L81.9 151.7 L81.8 151.2 L81.5 150.4 L82.0 149.0 L82.2 147.5 L82.4 146.3 L82.1 145.3 L82.5 143.6 L82.1 142.8 L82.6 141.8 L82.6 140.9 L82.4 139.9 L82.7 139.3 L82.1 137.3 L82.6 136.2 L82.5 135.6 L82.5 133.6 L82.8 133.1 L82.4 131.1 L82.8 129.4 L82.5 127.9 L82.7 126.8 L82.7 125.8 L83.2 123.5 L83.4 123.1 L83.3 122.0 L83.5 119.2 L83.1 118.1 L83.4 117.7 L83.3 114.0 L83.4 112.9 L83.2 112.2 L83.6 111.2 L83.5 110.5 L83.9 107.2 L83.6 106.5 L83.8 105.9 L83.4 105.5 L83.3 103.8 L83.5 102.9 L84.4 102.3 L83.6 101.4 L84.5 99.5 L84.1 98.3 L84.7 97.6 L84.8 97.0 L84.7 96.2 L85.1 95.0 L84.5 93.1 L84.9 92.1 L84.7 89.4 L84.8 88.5 L85.8 87.4 L85.3 85.9 L85.6 84.7 L85.6 84.1 L85.9 83.1 L86.1 81.6 L86.0 80.9 L86.1 80.6 L86.4 80.3 L86.8 80.4 L87.3 80.9 L87.2 81.5 L87.5 82.7 L87.3 83.2 L87.3 84.5 L87.1 85.6 L87.5 87.2 L87.2 88.1 L88.4 90.2 L88.3 90.9 L88.8 91.7 L88.8 92.9 L88.9 93.6 L89.7 95.4 L90.3 96.2 L90.7 97.0 L90.2 97.6 L90.6 99.6 L90.7 100.6 L90.6 101.3 L91.1 102.1 L91.4 104.2 L91.1 105.2 L91.5 105.8 L91.2 106.8 L91.9 107.9 L91.5 108.4 L91.8 109.4 L91.9 112.2 L91.8 113.0 L92.8 113.6 L92.5 114.8 L92.6 115.9 L93.2 116.6 L92.8 117.5 L93.1 118.6 L93.1 119.1 L93.5 120.2 L93.4 121.2 L93.6 122.7 L93.8 123.8 L94.2 124.6 L93.6 125.5 L94.2 126.5 L94.3 127.4 L94.5 128.0 L94.2 129.0 L95.0 130.1 L94.8 131.1 L95.2 132.5 L95.1 133.8 L95.5 134.6 L95.3 135.3 L96.0 137.3 L96.4 138.7 L96.4 139.9 L97.1 140.7 L96.6 142.7 L97.2 145.1 L97.3 146.7 L98.0 148.0 L97.7 148.7 L98.0 151.8 L98.5 152.3 L98.4 153.1 L98.6 154.4 L97.7 154.9 L98.7 155.8 L99.0 156.5 L99.3 157.9 L98.6 159.6 L99.3 160.4 L98.9 162.0 L99.8 164.0 L100.0 164.9 L100.0 166.0 L99.6 166.5 L100.6 167.4 L99.8 168.2 L100.2 169.6 L100.0 170.0 L100.8 171.3 L100.7 172.3 L100.9 172.9 L100.9 173.9 L101.1 175.5 L100.8 176.2 L101.6 177.4 L101.7 178.3 L101.5 179.0 L101.9 181.0 L102.4 181.7 L102.2 182.6 L102.3 184.5 L102.2 185.8 L102.5 186.2 L102.8 187.3 L103.1 189.1 L103.4 189.9 L103.8 192.4 L103.9 194.3 L104.1 195.3 L103.8 196.0 L104.6 196.6 L104.2 198.0 L104.8 198.8 L104.8 199.5 L105.2 200.5 L105.0 202.2 L105.6 203.3 L105.6 204.1 L105.7 204.5 L105.9 205.8 L106.2 206.6 L106.4 208.6 L106.1 209.3 L106.8 211.4 L107.4 212.1 L107.3 212.7 L107.3 213.7 L107.8 214.9 L107.7 215.6 L108.1 217.4 L107.9 218.4 L108.6 219.2 L108.7 221.8 L109.7 223.6 L109.4 224.1 L109.5 225.3 L110.0 226.0 L109.7 227.4 L109.8 228.3 L110.4 229.3 L110.5 230.0 L110.8 230.8 L110.9 232.0 L111.3 232.7 L111.5 234.5 L111.7 235.5 L112.2 236.6 L112.7 238.3 L112.9 239.5 L112.4 240.3 L113.1 240.5 L113.6 241.3 L114.0 241.8 L114.2 242.5 L115.1 243.1 L116.2 244.3 L118.6 245.7 L121.3 247.0 L127.4 249.2 L132.7 250.8 L136.2 251.3 L142.4 251.3 L148.6 251.3 L154.8 251.3 L161.1 251.3 L167.3 251.3 L173.5 251.3 L179.8 251.3 L186.1 251.3 L192.3 251.3 L198.6 251.3 L205.0 251.3 L211.3 251.3 L217.6 251.3 L224.0 251.3 L230.4 251.3 L236.8 251.3 L243.2 251.3 L249.7 251.3 L256.1 251.3 L258.0 251.3" stroke="#b8958f" stroke-width="1.40"/>
<line x1="200" y1="221" x2="304.5" y2="221" stroke="#d04a5c" stroke-width="2.2"/>
<line x1="205" y1="251.3" x2="258" y2="251.3" stroke="#b08c92" stroke-width="2"/>
<line x1="365.3" y1="249.5" x2="412.4" y2="218.9" stroke="#c6c2d0" stroke-width="0.9"/>
<line x1="375.1" y1="249.5" x2="422.2" y2="218.9" stroke="#d4c8cc" stroke-width="0.9"/>
<line x1="385.0" y1="249.5" x2="432.1" y2="218.9" stroke="#c4cad6" stroke-width="0.9"/>
<line x1="393.3" y1="249.5" x2="440.4" y2="218.9" stroke="#e6e1e4" stroke-width="0.9"/>
<line x1="415.4" y1="249.5" x2="462.5" y2="218.9" stroke="#c6c2d0" stroke-width="0.9"/>
<line x1="425.3" y1="249.5" x2="472.4" y2="218.9" stroke="#d4c8cc" stroke-width="0.9"/>
<line x1="435.2" y1="249.5" x2="482.3" y2="218.9" stroke="#c4cad6" stroke-width="0.9"/>
<line x1="443.4" y1="249.5" x2="490.5" y2="218.9" stroke="#e6e1e4" stroke-width="0.9"/>
<line x1="465.6" y1="249.5" x2="512.7" y2="218.9" stroke="#c6c2d0" stroke-width="0.9"/>
<line x1="475.4" y1="249.5" x2="522.5" y2="218.9" stroke="#d4c8cc" stroke-width="0.9"/>
<line x1="485.3" y1="249.5" x2="532.4" y2="218.9" stroke="#c4cad6" stroke-width="0.9"/>
<line x1="493.6" y1="249.5" x2="540.7" y2="218.9" stroke="#e6e1e4" stroke-width="0.9"/>
<line x1="515.7" y1="249.5" x2="562.8" y2="218.9" stroke="#c6c2d0" stroke-width="0.9"/>
<line x1="525.6" y1="249.5" x2="572.7" y2="218.9" stroke="#d4c8cc" stroke-width="0.9"/>
<line x1="535.5" y1="249.5" x2="582.6" y2="218.9" stroke="#c4cad6" stroke-width="0.9"/>
<line x1="543.7" y1="249.5" x2="590.8" y2="218.9" stroke="#e6e1e4" stroke-width="0.9"/>
<line x1="349.1" y1="249.5" x2="396.2" y2="218.9" stroke="#2a2a2a" stroke-width="0.9"/>
<line x1="399.2" y1="249.5" x2="446.4" y2="218.9" stroke="#2a2a2a" stroke-width="0.9"/>
<line x1="449.4" y1="249.5" x2="496.5" y2="218.9" stroke="#2a2a2a" stroke-width="0.9"/>
<line x1="499.6" y1="249.5" x2="546.6" y2="218.9" stroke="#2a2a2a" stroke-width="0.9"/>
<line x1="549.7" y1="249.5" x2="596.8" y2="218.9" stroke="#2a2a2a" stroke-width="0.9"/>
<line x1="349.1" y1="249.5" x2="549.7" y2="249.5" stroke="#333" stroke-width="0.8"/>
<line x1="396.2" y1="218.9" x2="596.8" y2="218.9" stroke="#333" stroke-width="0.8"/>
<line x1="364.2" y1="249.5" x2="364.2" y2="251.0" stroke="#777" stroke-width="0.5"/>
<line x1="373.0" y1="249.5" x2="373.0" y2="251.0" stroke="#777" stroke-width="0.5"/>
<line x1="379.3" y1="249.5" x2="379.3" y2="251.0" stroke="#777" stroke-width="0.5"/>
<line x1="384.2" y1="249.5" x2="384.2" y2="251.0" stroke="#777" stroke-width="0.5"/>
<line x1="388.1" y1="249.5" x2="388.1" y2="251.0" stroke="#777" stroke-width="0.5"/>
<line x1="391.5" y1="249.5" x2="391.5" y2="251.0" stroke="#777" stroke-width="0.5"/>
<line x1="394.4" y1="249.5" x2="394.4" y2="251.0" stroke="#777" stroke-width="0.5"/>
<line x1="397.0" y1="249.5" x2="397.0" y2="251.0" stroke="#777" stroke-width="0.5"/>
<line x1="414.3" y1="249.5" x2="414.3" y2="251.0" stroke="#777" stroke-width="0.5"/>
<line x1="423.2" y1="249.5" x2="423.2" y2="251.0" stroke="#777" stroke-width="0.5"/>
<line x1="429.4" y1="249.5" x2="429.4" y2="251.0" stroke="#777" stroke-width="0.5"/>
<line x1="434.3" y1="249.5" x2="434.3" y2="251.0" stroke="#777" stroke-width="0.5"/>
<line x1="438.3" y1="249.5" x2="438.3" y2="251.0" stroke="#777" stroke-width="0.5"/>
<line x1="441.6" y1="249.5" x2="441.6" y2="251.0" stroke="#777" stroke-width="0.5"/>
<line x1="444.5" y1="249.5" x2="444.5" y2="251.0" stroke="#777" stroke-width="0.5"/>
<line x1="447.1" y1="249.5" x2="447.1" y2="251.0" stroke="#777" stroke-width="0.5"/>
<line x1="464.5" y1="249.5" x2="464.5" y2="251.0" stroke="#777" stroke-width="0.5"/>
<line x1="473.3" y1="249.5" x2="473.3" y2="251.0" stroke="#777" stroke-width="0.5"/>
<line x1="479.6" y1="249.5" x2="479.6" y2="251.0" stroke="#777" stroke-width="0.5"/>
<line x1="484.5" y1="249.5" x2="484.5" y2="251.0" stroke="#777" stroke-width="0.5"/>
<line x1="488.4" y1="249.5" x2="488.4" y2="251.0" stroke="#777" stroke-width="0.5"/>
<line x1="491.8" y1="249.5" x2="491.8" y2="251.0" stroke="#777" stroke-width="0.5"/>
<line x1="494.7" y1="249.5" x2="494.7" y2="251.0" stroke="#777" stroke-width="0.5"/>
<line x1="497.3" y1="249.5" x2="497.3" y2="251.0" stroke="#777" stroke-width="0.5"/>
<line x1="514.6" y1="249.5" x2="514.6" y2="251.0" stroke="#777" stroke-width="0.5"/>
<line x1="523.5" y1="249.5" x2="523.5" y2="251.0" stroke="#777" stroke-width="0.5"/>
<line x1="529.7" y1="249.5" x2="529.7" y2="251.0" stroke="#777" stroke-width="0.5"/>
<line x1="534.6" y1="249.5" x2="534.6" y2="251.0" stroke="#777" stroke-width="0.5"/>
<line x1="538.6" y1="249.5" x2="538.6" y2="251.0" stroke="#777" stroke-width="0.5"/>
<line x1="541.9" y1="249.5" x2="541.9" y2="251.0" stroke="#777" stroke-width="0.5"/>
<line x1="544.8" y1="249.5" x2="544.8" y2="251.0" stroke="#777" stroke-width="0.5"/>
<line x1="547.4" y1="249.5" x2="547.4" y2="251.0" stroke="#777" stroke-width="0.5"/>
<path d="M396.2 218.9V30.7" stroke="#e3262a" stroke-width="1.6" stroke-linecap="butt"/>
<path d="M396.9 134.1 L397.7 133.1 L397.4 132.0 L397.1 131.5 L397.4 130.1 L398.1 129.7 L397.5 128.5 L398.0 127.9 L398.1 127.2 L398.9 126.1 L398.4 125.0 L399.0 124.2 L398.6 123.2 L398.8 122.2 L399.4 121.3 L399.5 120.7 L399.0 119.9 L399.8 118.5 L400.0 118.0 L399.8 117.2 L400.2 116.2 L400.4 115.1 L400.6 113.3 L401.0 112.1 L401.0 110.5 L401.5 110.1 L401.3 109.2 L402.0 108.3 L402.1 107.2 L402.1 106.5 L402.8 105.4 L403.3 104.8 L403.4 104.0 L402.9 102.9 L403.8 101.9 L403.8 101.2 L404.0 99.5 L404.4 98.6 L405.1 97.8 L405.1 95.5 L405.2 95.3 L406.0 93.1 L406.6 92.4 L406.0 91.7 L406.4 91.0 L406.6 89.3 L407.0 88.1 L407.2 87.3 L406.8 86.4 L407.1 85.4 L407.8 84.8 L407.7 83.8 L407.9 83.0 L407.7 81.8 L408.2 79.9 L408.1 79.3 L408.1 77.7 L408.9 76.7 L408.5 75.5 L409.2 74.7 L409.2 73.5 L408.9 73.3 L409.3 72.2 L409.4 71.1 L409.7 70.3 L409.9 69.4 L409.5 68.8 L409.6 67.6 L410.4 66.4 L410.3 65.7 L410.5 65.2 L410.6 64.1 L411.1 63.0 L410.5 62.3 L411.2 61.3 L410.9 60.6 L411.7 58.5 L411.2 57.9 L411.8 56.8 L411.7 56.0 L412.1 54.1 L411.9 53.3 L412.0 52.2 L412.6 51.3 L412.8 50.5 L412.6 49.4 L412.5 48.3 L413.7 48.2 L413.4 45.3 L413.9 44.2 L414.5 43.2 L414.6 42.4 L415.7 41.5 L415.7 42.0 L416.2 42.1 L416.3 43.2 L416.7 44.8 L417.1 45.3 L417.6 46.6 L417.8 48.1 L418.1 48.8 L418.2 49.8 L418.6 50.4 L418.3 51.3 L418.2 52.5 L418.5 53.0 L419.0 54.1 L418.5 55.3 L418.8 55.9 L418.8 56.8 L419.1 57.6 L419.2 58.8 L419.0 59.6 L419.2 60.6 L419.6 61.4 L419.9 63.7 L419.7 65.1 L419.8 66.0 L420.2 66.9 L419.8 67.4 L420.1 68.9 L419.8 69.5 L420.3 70.4 L420.2 72.3 L420.8 73.1 L420.6 74.3 L420.9 75.6 L420.9 76.8 L421.6 77.4 L421.2 78.6 L421.5 79.2 L421.2 80.3 L421.5 81.2 L421.9 83.7 L422.2 84.8 L422.7 85.6 L422.4 86.6 L422.5 87.9 L423.4 89.2 L423.3 90.4 L423.1 91.1 L423.3 92.1 L423.0 92.9 L423.5 94.4 L423.6 95.7 L423.4 96.7 L423.5 97.4 L424.0 98.3 L424.0 99.2 L423.5 100.0 L424.2 101.0 L424.6 101.8 L424.2 102.8 L424.5 103.4 L424.2 104.4 L424.9 105.5 L424.5 106.2 L424.9 108.1 L425.7 108.5 L425.1 110.3 L425.0 110.9 L425.6 111.8 L425.6 112.4 L426.1 113.2 L425.4 114.3 L425.4 115.3 L425.9 116.0 L426.2 117.1 L426.3 118.1 L426.6 119.0 L426.1 119.5 L426.4 120.2 L426.7 121.5 L427.1 122.3 L427.2 123.4 L427.1 125.4 L427.8 126.0 L428.0 127.1 L428.7 128.1 L428.2 128.6 L428.8 129.5 L428.3 130.5 L428.7 131.2 L429.1 132.9 L429.2 133.9 L429.8 135.8 L430.0 136.5 L430.5 137.7 L430.5 138.5 L431.3 140.3 L431.2 140.8 L431.5 142.8 L432.0 144.6 L431.8 145.2 L432.5 146.3 L432.8 147.2 L432.8 148.0 L432.3 149.6 L433.0 151.4 L433.3 152.6 L433.2 153.5 L433.3 154.4 L433.9 155.1 L433.5 156.7 L434.1 156.9 L434.2 157.9 L433.8 158.6 L434.4 159.9 L434.6 162.0 L434.9 163.2 L435.7 163.9 L435.8 165.0 L436.2 165.6 L436.2 166.4 L436.7 167.5 L437.0 168.0 L437.0 168.8 L437.4 170.0 L438.3 170.3 L438.8 172.2 L439.5 172.9 L440.1 173.9 L440.9 174.8 L440.5 175.4 L442.0 177.3 L441.8 178.1 L442.5 178.8 L441.7 179.5 L443.0 180.4 L442.7 182.4 L443.7 183.2 L444.4 185.1 L444.8 185.6 L444.8 186.4 L445.0 187.2 L445.4 188.5 L446.0 188.5 L446.5 189.8 L446.7 190.6 L447.2 191.3 L448.2 193.2 L449.1 193.9 L449.5 194.3 L449.0 195.4 L449.6 196.1 L449.8 197.0 L450.2 197.8 L451.1 198.5 L451.1 199.6 L451.4 200.6 L452.7 202.0 L453.2 203.8 L454.0 204.6 L455.3 206.7 L455.4 207.2 L456.6 208.6 L457.5 209.4 L458.5 210.7 L459.5 211.5 L459.8 212.2 L460.8 212.6 L461.4 213.3 L462.7 214.2 L466.8 216.0 L469.5 216.9 L475.7 218.0 L482.1 218.6 L488.4 218.9 L494.7 218.9 L501.0 218.9 L507.4 218.9 L513.7 218.9 L520.0 218.9 L526.3 218.9 L532.6 218.9 L538.9 218.9 L545.3 218.9 L551.6 218.9 L557.9 218.9 L564.2 218.9 L570.6 218.9 L576.9 218.9 L583.2 218.9 L589.6 218.9 L595.9 218.9 L596.8 218.9" stroke="#e3262a" stroke-width="1.4"/>
<path d="M386.8 225.0V36.5" stroke="#2fb0e4" stroke-width="1.6" stroke-linecap="butt"/>
<path d="M386.9 165.6 L387.1 166.4 L387.6 167.0 L387.3 168.6 L387.7 168.9 L388.0 170.0 L388.1 171.3 L388.4 171.7 L388.9 172.9 L389.1 173.9 L389.8 175.1 L389.6 175.7 L390.1 175.9 L390.4 175.5 L390.5 174.7 L391.2 174.2 L391.3 172.2 L391.8 171.6 L391.8 169.6 L391.6 166.9 L392.1 165.3 L392.2 163.6 L392.4 162.7 L392.2 161.7 L393.1 160.8 L392.5 159.8 L392.8 159.0 L393.2 158.2 L392.7 157.4 L393.5 156.5 L393.6 155.7 L393.4 154.8 L393.3 153.3 L393.5 152.7 L393.2 151.8 L394.2 150.8 L393.9 150.3 L393.8 149.3 L393.9 148.3 L394.7 146.7 L394.0 145.5 L394.3 144.6 L394.1 144.0 L394.8 143.0 L394.8 142.3 L395.4 141.2 L394.9 140.4 L395.0 138.2 L395.5 137.5 L395.0 136.1 L395.8 135.8 L395.7 133.0 L396.4 132.4 L396.7 131.2 L396.2 130.6 L396.6 129.9 L397.0 128.7 L396.6 127.9 L396.8 126.9 L396.7 125.9 L397.1 125.1 L397.2 123.4 L397.3 122.0 L397.2 121.4 L397.5 119.5 L398.1 118.7 L397.9 117.7 L397.9 117.0 L398.4 116.2 L398.4 115.4 L398.2 114.3 L398.3 113.2 L398.7 112.5 L398.8 111.7 L398.5 110.9 L398.9 108.9 L399.3 107.6 L398.9 107.2 L399.5 106.3 L399.5 105.4 L399.2 104.6 L399.8 103.6 L399.9 102.4 L399.4 101.8 L400.4 101.0 L399.7 99.9 L400.1 97.7 L400.5 97.1 L400.6 95.6 L400.5 94.4 L400.9 93.2 L400.8 92.0 L401.1 90.9 L401.6 90.1 L401.0 88.9 L400.4 88.0 L401.1 87.1 L401.1 85.7 L401.6 85.3 L401.8 84.9 L401.7 84.6 L402.0 83.5 L402.5 83.4 L403.3 84.0 L404.6 83.6 L404.5 83.5 L404.9 81.5 L404.6 81.0 L405.3 78.8 L405.4 77.6 L405.0 73.3 L405.7 71.8 L405.3 69.9 L405.0 68.8 L405.4 68.1 L405.3 66.9 L406.3 66.0 L406.2 66.1 L407.2 65.7 L409.0 65.7 L409.0 66.0 L408.6 65.7 L409.2 64.7 L409.0 64.1 L409.1 63.0 L410.4 60.7 L410.0 58.5 L410.0 57.4 L410.4 56.0 L410.9 56.0 L410.6 54.5 L411.0 53.6 L412.5 52.4 L412.6 52.1 L413.3 51.5 L413.1 52.0 L413.7 52.2 L413.3 53.0 L413.8 53.2 L414.3 54.1 L414.3 55.1 L414.0 56.6 L414.5 56.9 L414.3 58.4 L414.2 59.4 L414.9 60.8 L415.2 62.0 L415.2 63.1 L414.8 64.2 L415.6 65.2 L415.7 66.0 L415.6 66.9 L415.3 67.5 L416.4 68.6 L416.8 70.4 L416.4 71.5 L416.7 72.3 L417.6 73.2 L417.8 74.2 L417.9 74.3 L417.9 75.8 L418.2 76.6 L418.1 77.5 L418.3 78.2 L418.3 79.6 L418.7 80.8 L418.6 81.7 L419.0 82.5 L419.1 83.7 L418.8 84.8 L419.6 85.9 L418.9 86.7 L419.4 87.4 L420.0 89.0 L419.3 89.8 L420.4 90.3 L420.7 91.1 L421.4 91.2 L421.4 91.5 L422.8 92.6 L422.9 93.3 L423.6 93.6 L423.2 95.0 L423.8 95.7 L423.8 96.5 L423.3 97.6 L423.7 99.3 L423.9 100.9 L424.2 101.5 L424.0 102.8 L424.3 104.1 L423.7 104.6 L423.4 105.8 L424.2 106.7 L424.5 108.1 L424.3 109.6 L424.8 111.0 L425.3 111.8 L425.0 112.2 L425.0 113.4 L425.2 113.8 L426.5 115.2 L427.6 115.2 L428.6 115.8 L429.2 116.3 L429.1 117.4 L430.0 118.4 L430.7 120.4 L431.2 120.9 L431.3 121.6 L432.0 122.3 L434.0 121.0 L434.6 121.3 L434.5 121.9 L435.0 122.3 L435.1 123.7 L435.4 124.4 L435.8 128.1 L435.5 129.4 L436.6 129.7 L436.4 131.5 L437.3 132.4 L438.6 132.7 L438.9 133.8 L439.7 134.3 L440.6 135.7 L440.7 137.6 L440.4 138.1 L441.2 139.4 L441.3 139.8 L441.4 141.8 L441.4 143.6 L442.0 144.7 L442.3 145.9 L441.9 146.7 L442.8 147.9 L442.9 148.7 L443.5 149.2 L443.7 150.1 L444.4 150.4 L445.1 152.3 L444.9 153.2 L445.8 153.7 L446.0 154.7 L445.9 155.5 L446.7 156.8 L446.4 157.5 L447.2 158.2 L447.7 159.1 L447.3 160.1 L447.9 160.8 L448.0 161.8 L448.3 162.4 L448.0 163.8 L448.7 164.7 L448.8 165.4 L449.3 166.3 L449.4 167.1 L450.1 168.7 L450.6 169.2 L451.3 170.1 L451.4 171.2 L452.1 172.1 L452.4 172.8 L452.9 173.6 L453.0 174.3 L453.6 174.8 L454.0 175.8 L453.9 176.4 L454.4 177.6 L454.5 178.4 L454.3 179.6 L455.4 181.0 L455.0 183.4 L455.8 183.8 L455.8 185.0 L456.7 185.9 L456.5 186.6 L457.0 188.2 L458.0 189.6 L459.4 190.9 L460.0 191.5 L461.3 192.0 L461.3 192.5 L462.2 193.1 L462.9 194.6 L464.2 195.5 L463.7 196.3 L465.1 197.1 L464.8 197.9 L466.8 199.7 L466.2 200.4 L466.9 200.6 L469.5 202.1 L470.4 202.5 L470.8 203.0 L472.6 203.9 L472.6 205.2 L473.2 206.2 L474.0 206.6 L474.6 207.7 L474.4 208.3 L475.2 209.2 L475.9 210.6 L476.5 211.4 L476.9 211.7 L477.2 213.0 L477.6 213.7 L478.4 214.1 L479.2 215.3 L479.9 215.9 L480.2 216.6 L480.9 217.2 L482.3 218.2 L482.9 218.8 L485.2 220.5 L488.5 222.1 L492.7 223.8 L495.3 224.4 L501.6 224.9 L507.9 225.0 L514.2 225.0 L520.6 225.0 L526.9 225.0 L533.2 225.0 L539.5 225.0 L545.8 225.0 L552.1 225.0 L558.5 225.0 L564.8 225.0 L571.1 225.0 L577.4 225.0 L583.8 225.0 L587.4 225.0" stroke="#2fb0e4" stroke-width="1.4"/>
<path d="M377.4 231.1V43.0" stroke="#f2a340" stroke-width="1.6" stroke-linecap="butt"/>
<path d="M377.3 177.8 L377.9 179.6 L377.8 181.7 L377.9 183.4 L378.7 183.7 L378.7 185.0 L379.3 185.1 L379.1 185.8 L379.5 185.9 L379.4 185.8 L379.9 185.2 L380.1 185.2 L380.5 184.6 L380.8 183.6 L380.6 182.9 L380.5 182.2 L381.4 180.7 L381.1 179.8 L381.5 177.5 L381.8 176.4 L381.9 174.2 L382.1 173.0 L381.8 172.3 L382.0 170.9 L382.3 170.4 L382.6 168.3 L382.9 167.8 L383.0 166.0 L382.9 164.6 L383.7 164.0 L383.8 163.0 L383.6 162.2 L384.2 160.6 L384.3 159.6 L383.9 158.4 L384.5 156.7 L385.2 156.3 L384.6 155.1 L384.8 154.1 L384.7 153.4 L385.3 151.6 L384.7 150.8 L384.6 149.8 L385.6 149.0 L385.4 147.0 L385.9 146.0 L386.0 145.2 L385.2 144.3 L386.2 142.4 L385.8 141.8 L386.0 140.6 L386.4 139.6 L386.1 139.0 L385.9 138.2 L386.1 137.1 L386.0 136.2 L386.6 135.1 L386.0 134.4 L386.8 133.7 L386.1 132.8 L386.6 131.7 L386.3 130.8 L386.7 129.6 L387.1 129.1 L387.3 127.4 L387.0 126.7 L387.4 123.4 L387.2 123.0 L387.6 122.0 L387.5 121.2 L387.8 120.2 L387.7 119.2 L387.8 118.5 L387.5 117.2 L387.7 116.6 L387.6 115.7 L387.9 114.5 L388.0 113.5 L388.4 112.9 L387.9 112.0 L389.2 111.2 L388.4 110.3 L388.9 109.1 L388.9 108.4 L388.0 107.7 L389.3 105.6 L388.3 104.5 L389.3 104.0 L388.9 103.4 L389.1 101.8 L389.4 101.3 L388.9 100.5 L389.6 99.2 L389.5 98.4 L389.5 97.4 L390.0 96.5 L390.9 95.8 L390.1 95.0 L390.2 94.0 L390.1 92.2 L390.4 91.0 L390.8 90.7 L390.5 89.7 L390.8 88.4 L390.6 88.0 L391.4 86.8 L390.3 85.9 L391.0 85.3 L391.1 82.8 L390.8 82.4 L390.9 81.3 L391.5 79.9 L391.2 78.8 L391.4 77.5 L392.0 76.8 L392.3 76.2 L392.0 75.5 L392.2 73.9 L392.5 73.5 L393.7 72.5 L393.5 71.4 L394.2 69.7 L394.9 69.0 L394.8 68.4 L394.4 67.1 L395.1 66.0 L395.5 63.7 L395.6 62.9 L396.1 61.6 L396.1 61.2 L396.7 61.1 L396.9 60.7 L396.7 60.9 L396.8 61.7 L397.3 62.4 L397.8 62.8 L397.9 63.7 L398.0 65.1 L397.3 66.1 L398.2 67.1 L398.3 68.6 L398.5 69.7 L398.5 70.7 L398.9 72.9 L400.0 73.6 L399.5 74.6 L399.4 75.9 L399.9 78.0 L399.8 78.8 L400.5 80.7 L400.5 82.4 L400.9 83.2 L400.8 84.4 L400.6 84.7 L400.5 86.1 L401.0 86.9 L401.3 87.8 L401.6 88.1 L402.0 89.9 L401.7 90.0 L401.8 91.1 L402.8 92.9 L402.5 93.8 L403.0 94.3 L403.4 95.6 L403.4 96.6 L403.4 97.6 L403.1 98.3 L404.2 99.2 L404.1 103.2 L404.6 103.5 L404.7 104.8 L405.2 105.4 L404.7 106.6 L405.6 107.1 L405.3 108.2 L405.8 109.1 L405.3 109.8 L406.2 111.5 L406.1 112.5 L405.8 113.4 L406.6 115.2 L406.3 115.8 L406.4 116.9 L407.0 117.9 L406.9 118.6 L407.5 119.9 L407.2 120.6 L407.2 121.6 L408.5 123.1 L408.1 124.3 L408.5 124.6 L408.8 125.9 L408.7 126.7 L409.4 127.5 L409.4 128.5 L409.7 129.1 L409.3 130.2 L409.5 130.8 L409.5 131.7 L410.6 133.6 L411.1 134.1 L411.5 135.7 L411.2 136.2 L411.5 136.5 L411.9 138.1 L412.4 139.2 L412.0 140.0 L412.7 141.1 L413.0 142.6 L413.6 143.1 L413.4 144.2 L413.7 145.3 L414.5 145.9 L414.7 146.6 L415.1 146.9 L415.6 148.0 L416.3 148.5 L416.6 149.7 L417.5 150.2 L417.9 151.1 L418.7 151.6 L419.1 153.0 L419.4 153.1 L419.6 154.2 L420.1 155.5 L420.3 155.8 L421.7 156.4 L421.3 157.5 L422.5 159.1 L422.2 159.4 L422.7 160.6 L423.2 161.0 L423.4 162.6 L425.0 164.9 L425.5 167.7 L425.3 168.1 L426.2 168.7 L426.4 170.2 L426.3 171.1 L426.9 171.9 L427.2 173.2 L427.4 174.4 L428.1 176.1 L429.1 177.4 L429.7 179.4 L431.1 180.5 L430.5 181.5 L431.7 182.5 L431.9 183.3 L432.7 184.7 L433.3 185.4 L433.6 186.2 L434.1 187.0 L435.1 187.6 L435.2 188.2 L436.5 189.0 L437.1 189.6 L436.3 190.6 L437.3 191.1 L438.6 192.9 L438.9 193.9 L439.4 194.5 L440.3 196.4 L441.0 197.2 L441.0 197.8 L441.7 198.3 L441.6 199.1 L442.8 199.6 L443.3 200.0 L444.9 200.5 L446.0 200.6 L446.2 200.7 L446.4 201.7 L447.2 202.0 L447.8 202.8 L448.3 204.1 L449.6 205.3 L449.1 206.1 L450.8 206.9 L451.5 208.4 L452.6 208.9 L452.7 210.1 L452.9 210.2 L453.4 211.4 L454.2 211.9 L454.8 213.1 L455.4 213.5 L455.4 214.7 L455.8 215.2 L456.8 215.8 L456.9 216.6 L458.0 217.2 L459.4 218.1 L460.1 218.3 L461.1 218.0 L461.7 218.9 L462.4 219.1 L463.2 219.9 L463.8 220.7 L464.6 221.1 L465.8 222.7 L467.2 223.9 L468.2 224.2 L469.5 225.2 L470.3 225.3 L474.6 227.1 L480.7 228.7 L486.9 230.2 L493.2 230.9 L499.5 231.1 L505.8 231.1 L512.1 231.1 L518.4 231.1 L524.7 231.1 L531.0 231.1 L537.3 231.1 L543.7 231.1 L550.0 231.1 L556.3 231.1 L562.6 231.1 L568.9 231.1 L575.3 231.1 L578.0 231.1" stroke="#f2a340" stroke-width="1.4"/>
<path d="M367.9 237.3V49.3" stroke="#6ddc3c" stroke-width="1.6" stroke-linecap="butt"/>
<path d="M368.4 186.3 L368.7 187.0 L367.8 188.0 L368.2 191.2 L368.5 192.4 L368.9 192.6 L368.3 194.0 L368.4 195.8 L369.4 197.1 L369.5 197.8 L368.9 198.6 L369.0 199.4 L370.0 201.3 L370.2 202.5 L370.2 203.9 L370.5 204.9 L370.6 205.9 L371.5 205.5 L371.1 205.8 L371.0 205.4 L371.4 204.3 L371.3 203.8 L371.9 202.8 L372.4 201.1 L372.0 200.0 L373.3 197.9 L372.8 195.9 L373.0 194.6 L373.3 193.9 L373.3 192.8 L373.5 191.9 L373.9 191.1 L374.1 190.1 L374.5 189.6 L374.2 188.8 L375.2 188.0 L375.2 187.0 L375.3 185.9 L375.0 185.2 L375.8 184.4 L375.4 183.3 L376.2 182.5 L376.1 181.6 L375.7 180.6 L376.0 179.9 L376.7 178.7 L376.4 176.8 L376.6 176.4 L376.8 175.1 L376.6 174.8 L376.9 173.8 L376.8 172.5 L377.4 170.7 L377.1 170.0 L377.6 169.2 L377.6 168.8 L377.8 167.0 L378.0 166.7 L378.2 165.4 L378.1 164.7 L378.2 163.9 L378.1 163.0 L378.4 162.0 L378.1 161.0 L378.8 159.3 L378.7 158.6 L379.0 157.2 L378.7 156.5 L379.5 155.4 L379.1 154.6 L379.5 153.7 L379.6 153.3 L379.9 152.6 L379.7 151.5 L379.7 150.1 L379.6 149.5 L380.2 148.3 L380.0 147.8 L380.6 147.1 L381.0 146.0 L380.1 145.2 L381.4 141.9 L381.3 141.4 L381.6 138.6 L382.0 137.8 L381.8 137.0 L381.4 136.3 L381.9 134.0 L381.7 133.6 L382.0 132.5 L382.0 130.4 L382.5 129.7 L382.1 127.5 L382.6 126.0 L383.2 125.4 L382.8 124.7 L383.2 123.4 L382.4 121.5 L383.1 120.9 L382.8 119.0 L383.0 118.0 L383.8 117.1 L383.0 116.4 L383.3 114.9 L383.9 114.5 L383.8 113.4 L383.3 112.7 L383.8 111.9 L383.8 110.8 L384.3 108.8 L384.1 108.3 L384.2 107.1 L384.8 106.5 L384.0 105.2 L384.5 104.9 L384.8 103.5 L384.5 103.0 L384.7 101.8 L384.6 101.1 L385.1 100.1 L385.0 99.3 L385.5 98.3 L385.7 97.7 L385.5 96.7 L385.5 95.8 L385.8 95.1 L385.9 93.7 L385.7 93.2 L386.4 92.1 L386.3 90.8 L386.6 90.4 L386.1 89.3 L386.9 88.8 L387.3 87.5 L386.7 85.9 L387.4 84.2 L387.8 82.6 L388.2 81.8 L388.1 80.5 L388.5 79.3 L388.5 78.8 L389.4 77.2 L389.2 76.1 L389.7 75.0 L389.4 74.3 L390.3 71.5 L389.9 70.6 L390.5 69.9 L389.9 68.7 L391.0 67.1 L391.3 66.0 L391.2 65.0 L391.6 64.5 L392.6 63.9 L392.3 63.7 L393.1 64.6 L393.0 66.0 L393.4 66.9 L394.3 68.3 L394.4 69.3 L394.5 69.8 L395.8 69.1 L396.2 68.8 L396.4 69.4 L397.0 69.6 L396.4 70.9 L397.1 71.4 L397.2 72.3 L397.1 73.6 L397.9 74.6 L397.2 75.8 L397.7 77.0 L397.8 77.9 L397.3 78.9 L397.6 79.9 L397.9 81.2 L398.5 81.7 L398.7 82.7 L398.8 84.7 L398.3 85.9 L399.1 86.1 L399.0 87.3 L399.6 88.1 L400.1 90.0 L399.8 90.5 L400.0 91.9 L399.6 92.6 L400.0 93.3 L399.8 94.7 L400.5 95.4 L400.1 96.4 L400.5 96.7 L400.5 97.9 L401.1 99.9 L401.0 100.9 L401.3 101.1 L401.1 102.4 L402.0 103.2 L401.6 104.4 L402.6 105.7 L401.5 106.8 L402.1 107.5 L403.0 109.5 L402.7 110.3 L403.1 111.3 L403.0 111.8 L403.6 113.5 L403.2 114.2 L404.0 114.9 L403.1 115.4 L403.6 116.1 L404.8 117.2 L404.6 118.3 L404.5 119.7 L405.6 120.4 L405.5 120.8 L405.7 122.1 L405.5 123.0 L406.0 123.6 L406.2 124.7 L405.8 125.4 L406.7 126.0 L406.7 126.8 L407.4 127.9 L407.6 129.0 L407.3 129.4 L408.0 131.5 L408.4 131.7 L408.3 133.6 L408.7 133.9 L409.1 135.1 L409.3 136.2 L409.8 136.3 L409.8 139.1 L410.8 140.0 L410.8 141.0 L411.4 142.9 L411.4 143.4 L412.1 144.2 L411.9 145.0 L412.9 145.9 L413.1 147.0 L414.3 147.5 L414.3 148.7 L414.6 148.9 L415.5 151.1 L415.4 151.9 L415.9 152.5 L416.2 153.1 L417.3 154.0 L416.7 155.9 L418.5 157.2 L417.9 158.2 L419.4 159.3 L418.8 160.2 L419.4 160.6 L419.3 161.6 L419.8 162.1 L419.9 163.2 L420.4 164.9 L421.8 165.7 L421.6 166.4 L422.4 167.1 L422.8 167.8 L422.9 169.0 L423.5 169.7 L423.8 170.9 L424.1 171.1 L425.0 173.5 L425.2 174.9 L425.7 175.3 L426.3 176.6 L427.3 178.1 L427.3 179.1 L427.8 179.7 L427.9 180.7 L428.5 181.8 L428.6 182.3 L429.0 183.1 L429.2 184.1 L429.6 185.0 L430.5 185.3 L430.0 186.5 L430.8 187.1 L431.0 188.2 L432.4 189.8 L432.2 190.8 L431.9 191.1 L433.3 192.1 L433.6 192.8 L433.3 193.9 L434.0 194.8 L434.4 195.6 L434.1 196.2 L435.3 197.3 L435.9 199.1 L435.9 199.7 L436.5 200.8 L437.0 201.2 L437.9 201.4 L438.2 202.3 L439.6 202.6 L440.1 203.6 L440.1 204.3 L441.9 204.5 L442.2 205.2 L443.3 206.0 L443.3 207.0 L444.4 207.8 L444.2 208.3 L445.1 209.4 L446.3 210.2 L446.8 211.0 L447.0 211.9 L447.4 212.4 L448.5 212.8 L448.9 213.6 L449.6 214.3 L450.3 214.6 L450.4 215.8 L451.6 216.4 L451.3 216.8 L452.9 217.5 L452.6 219.2 L453.3 219.2 L453.8 220.0 L455.2 221.5 L456.2 223.0 L456.7 223.3 L457.8 225.7 L458.4 226.4 L459.5 226.8 L460.1 228.0 L460.8 228.3 L461.5 229.2 L462.0 229.7 L462.6 230.4 L463.2 230.9 L463.9 231.6 L464.9 232.0 L466.2 232.8 L472.1 235.4 L475.7 236.4 L481.9 237.0 L488.3 237.2 L494.6 237.3 L500.9 237.3 L507.2 237.3 L513.5 237.3 L519.8 237.3 L526.1 237.3 L532.5 237.3 L538.8 237.3 L545.1 237.3 L551.4 237.3 L557.7 237.3 L564.0 237.3 L568.5 237.3" stroke="#6ddc3c" stroke-width="1.4"/>
<path d="M358.5 243.4V55.7" stroke="#1f5a1c" stroke-width="1.6" stroke-linecap="butt"/>
<path d="M357.8 188.6 L358.5 189.7 L358.4 190.7 L358.4 191.4 L359.0 191.8 L358.7 193.1 L358.6 194.7 L359.0 195.9 L359.4 196.6 L359.1 197.6 L359.1 198.7 L359.8 199.4 L359.7 201.4 L359.9 201.9 L360.7 202.9 L360.0 203.5 L360.6 204.0 L360.3 203.9 L360.9 203.2 L361.8 202.0 L361.5 200.9 L362.3 199.2 L362.6 198.2 L362.6 197.5 L363.6 196.5 L363.1 195.7 L363.1 194.5 L363.7 194.0 L363.3 192.9 L364.5 192.0 L364.6 191.2 L364.5 190.6 L365.0 189.6 L365.2 188.8 L365.9 187.6 L365.4 186.8 L365.4 185.0 L366.2 184.2 L366.0 183.3 L366.6 182.7 L367.0 181.7 L367.0 179.9 L367.8 179.2 L367.6 178.2 L368.2 176.5 L367.7 175.6 L368.0 174.6 L369.1 173.4 L368.3 172.3 L368.7 171.1 L368.6 169.2 L368.9 168.2 L369.1 168.1 L369.2 166.3 L369.5 165.6 L369.0 164.7 L369.1 163.6 L369.9 162.7 L369.6 161.9 L370.2 161.1 L370.1 160.2 L369.7 159.5 L370.4 158.2 L370.1 157.7 L370.5 157.0 L371.3 154.7 L370.8 153.4 L371.1 153.3 L371.2 152.3 L371.4 151.2 L370.6 150.7 L371.3 149.5 L371.6 148.7 L371.8 147.5 L371.6 146.9 L372.1 145.9 L372.3 145.0 L372.1 144.4 L372.2 142.1 L372.8 140.8 L373.0 139.5 L372.6 138.7 L372.5 137.9 L372.7 136.9 L373.3 136.1 L373.1 135.3 L373.2 134.2 L373.4 133.9 L373.4 131.5 L373.2 131.1 L373.9 128.0 L373.8 126.9 L373.8 126.5 L374.4 125.4 L374.0 124.2 L374.2 123.6 L374.0 121.3 L374.4 120.2 L374.4 119.1 L374.9 118.1 L374.4 117.4 L375.1 115.6 L374.9 114.8 L375.4 112.9 L374.7 112.1 L375.1 110.9 L375.1 109.8 L375.8 109.5 L375.4 108.4 L375.7 107.3 L376.1 106.5 L375.6 105.5 L375.9 103.7 L375.8 102.5 L376.3 102.0 L376.2 101.0 L376.4 100.4 L376.1 98.4 L376.3 96.5 L376.0 95.4 L376.6 95.0 L376.9 93.9 L376.7 92.1 L377.2 89.4 L377.7 88.8 L377.0 87.5 L377.7 85.7 L377.7 83.8 L377.6 83.4 L377.8 82.2 L378.3 81.5 L378.6 80.4 L378.1 79.2 L378.7 78.2 L379.0 76.8 L378.9 76.1 L379.3 73.9 L378.9 72.9 L379.3 71.7 L379.0 70.9 L379.0 69.3 L379.5 68.2 L379.4 67.1 L380.1 66.2 L380.4 65.5 L380.2 65.6 L380.4 65.0 L380.6 66.7 L381.1 68.5 L381.0 70.1 L381.0 71.4 L381.3 72.8 L381.8 73.2 L381.7 73.8 L382.6 73.9 L382.7 72.9 L383.8 71.9 L383.3 71.7 L383.7 72.1 L384.1 72.9 L384.3 73.9 L384.2 75.2 L384.9 76.7 L384.4 77.8 L384.6 78.9 L384.4 80.5 L385.1 81.4 L384.9 82.5 L384.9 84.2 L384.5 84.4 L385.2 85.3 L385.2 85.8 L385.6 86.3 L386.6 84.8 L387.5 83.9 L388.0 83.8 L388.1 85.1 L388.3 85.8 L388.3 86.7 L389.1 88.0 L388.7 89.9 L389.1 91.1 L388.4 93.4 L389.7 94.4 L389.8 95.4 L389.2 96.7 L389.5 98.0 L389.9 99.0 L389.9 100.4 L390.5 103.3 L390.8 104.4 L390.9 105.9 L391.2 107.3 L390.9 107.6 L392.0 109.0 L391.3 109.6 L391.9 110.4 L392.4 112.2 L392.5 113.0 L392.9 114.2 L392.5 114.6 L393.2 116.9 L393.2 117.9 L393.4 118.3 L394.1 118.9 L393.8 120.1 L394.9 123.7 L395.0 124.7 L395.4 125.2 L395.6 126.8 L395.9 127.0 L396.4 128.2 L396.0 129.2 L397.0 129.7 L396.6 130.7 L397.2 131.9 L397.4 133.6 L397.2 134.3 L398.4 135.1 L398.1 136.1 L398.3 136.7 L399.1 137.6 L399.1 138.7 L399.9 139.4 L400.1 140.4 L400.3 142.0 L400.7 143.2 L400.5 143.9 L401.3 144.6 L401.7 145.2 L401.9 145.9 L402.7 146.8 L402.9 147.6 L404.3 147.9 L405.2 148.7 L405.2 149.0 L406.2 149.9 L407.0 150.1 L407.1 151.6 L407.4 152.8 L408.8 154.2 L408.3 155.1 L408.9 156.1 L408.9 156.8 L409.7 158.7 L410.0 160.9 L411.1 161.4 L410.7 162.2 L411.0 163.2 L411.6 163.9 L411.6 164.8 L411.8 165.9 L412.4 166.7 L412.1 167.4 L412.9 168.2 L413.4 169.9 L413.4 171.0 L413.7 171.6 L413.5 172.5 L414.1 173.6 L414.8 175.4 L414.9 177.4 L415.3 179.0 L416.0 180.9 L415.9 181.5 L416.0 182.2 L416.7 185.0 L416.3 185.7 L417.0 187.9 L417.6 188.4 L417.7 189.8 L418.0 190.2 L418.5 191.2 L418.2 191.7 L419.0 192.5 L419.2 194.8 L420.2 195.5 L419.9 195.7 L420.5 196.8 L422.0 198.3 L422.4 199.1 L422.3 199.6 L423.2 200.6 L423.6 201.2 L424.6 202.3 L424.6 205.0 L425.3 205.8 L425.2 206.8 L426.4 208.3 L426.6 209.0 L427.4 209.2 L428.9 210.5 L430.2 210.6 L430.8 211.9 L431.1 213.2 L431.8 213.6 L432.3 214.4 L432.8 215.6 L433.3 216.5 L433.4 217.2 L433.5 218.1 L434.8 218.7 L435.1 219.3 L435.7 219.8 L436.6 220.4 L436.6 220.9 L437.6 221.7 L439.0 223.1 L438.7 224.0 L439.3 224.8 L440.1 225.4 L440.2 227.3 L441.2 228.0 L440.7 229.3 L441.6 229.7 L441.9 230.3 L442.7 230.8 L443.2 231.6 L444.0 231.7 L445.1 232.3 L446.9 232.8 L447.5 233.5 L448.4 234.0 L448.9 234.6 L450.4 235.8 L451.2 236.3 L451.5 236.8 L454.0 238.0 L456.6 238.9 L457.5 239.3 L458.5 239.5 L459.2 239.7 L465.5 241.1 L471.7 242.3 L478.0 243.1 L484.3 243.3 L490.6 243.4 L496.9 243.4 L503.2 243.4 L509.5 243.4 L515.8 243.4 L522.1 243.4 L528.5 243.4 L534.8 243.4 L541.1 243.4 L547.4 243.4 L553.7 243.4 L559.1 243.4" stroke="#1f5a1c" stroke-width="1.4"/>
<path d="M349.1 249.5V60.8" stroke="#b8958f" stroke-width="1.6" stroke-linecap="butt"/>
<path d="M349.8 181.1 L349.9 180.7 L350.6 179.9 L350.9 178.8 L352.1 178.0 L352.5 177.3 L352.6 176.7 L353.8 174.3 L354.3 173.1 L354.4 172.2 L354.7 171.3 L354.5 170.4 L355.0 169.8 L354.8 169.0 L356.0 168.6 L356.0 166.3 L356.3 165.7 L356.6 164.3 L356.5 163.7 L355.9 162.9 L356.4 162.0 L355.9 161.0 L356.5 160.0 L356.5 158.9 L356.9 158.2 L357.1 157.2 L356.8 156.6 L357.4 154.7 L357.3 153.4 L357.4 153.0 L356.9 151.7 L358.0 149.8 L357.9 149.1 L357.6 148.6 L358.0 147.6 L358.2 146.3 L358.0 145.6 L358.5 144.7 L358.2 143.5 L358.5 142.7 L358.6 141.6 L359.4 140.9 L358.8 139.6 L358.8 139.2 L359.2 138.2 L359.0 137.4 L359.3 136.5 L358.7 136.0 L359.5 134.8 L359.5 134.0 L359.2 133.2 L360.1 132.3 L359.7 131.4 L359.8 130.2 L359.6 129.2 L359.6 128.4 L360.0 127.5 L359.8 126.8 L360.5 125.8 L360.7 125.2 L360.2 123.6 L360.6 122.5 L360.5 121.3 L361.0 120.7 L361.1 118.9 L361.3 117.9 L361.6 117.0 L361.9 115.6 L361.4 115.6 L361.8 114.1 L361.6 112.6 L362.3 111.4 L362.2 110.4 L362.3 108.6 L362.2 107.0 L363.0 106.4 L362.8 104.6 L363.3 103.0 L363.1 101.5 L363.4 101.1 L363.2 100.0 L363.6 99.1 L363.5 97.9 L364.3 97.3 L363.7 96.4 L364.1 95.2 L364.2 94.2 L364.1 93.3 L364.5 92.9 L364.4 91.6 L364.4 90.8 L364.6 89.6 L364.5 88.5 L365.1 87.5 L365.1 86.4 L365.3 85.8 L364.8 84.6 L365.4 83.8 L365.3 82.6 L365.7 82.1 L366.2 81.2 L366.2 80.6 L367.3 79.4 L368.2 79.3 L369.1 79.0 L368.5 78.3 L369.4 76.9 L369.6 74.8 L370.0 73.4 L369.9 71.8 L372.3 72.8 L372.1 74.0 L372.4 75.1 L372.5 76.0 L373.1 76.9 L373.4 78.3 L373.7 78.5 L373.4 79.5 L373.8 80.2 L373.5 81.2 L374.3 82.0 L373.8 83.9 L374.9 85.0 L374.9 85.9 L375.0 88.1 L374.8 88.3 L375.4 89.5 L375.0 90.8 L375.9 91.1 L375.5 92.4 L375.0 93.3 L376.2 94.4 L375.7 96.0 L376.2 96.7 L375.9 97.4 L375.9 98.7 L375.4 99.2 L376.5 100.5 L376.1 101.0 L376.4 102.2 L376.1 102.7 L376.2 103.7 L376.9 104.5 L376.5 105.5 L376.6 106.6 L376.4 107.4 L376.9 108.4 L377.1 109.5 L376.9 110.1 L377.0 110.6 L376.8 111.9 L377.6 112.9 L377.1 114.0 L377.3 114.9 L377.9 115.8 L377.5 116.4 L377.2 117.5 L377.4 117.9 L377.6 119.4 L378.3 120.1 L378.0 121.1 L377.9 121.8 L378.5 123.5 L378.0 124.7 L378.6 125.2 L378.5 127.4 L377.8 128.6 L378.6 129.0 L379.0 129.9 L378.6 130.9 L379.4 131.8 L378.9 132.6 L378.6 133.3 L379.2 134.2 L379.1 135.2 L379.4 136.2 L379.2 136.9 L379.7 137.8 L379.2 138.9 L379.5 140.0 L379.2 140.7 L379.4 141.8 L379.8 142.8 L379.6 143.6 L379.9 145.2 L380.1 145.7 L380.4 146.9 L380.4 148.1 L380.6 148.6 L380.3 151.0 L380.2 151.5 L380.6 152.7 L380.4 154.0 L381.4 155.1 L380.6 156.1 L381.3 156.9 L381.4 157.7 L381.3 159.2 L382.2 159.7 L381.6 160.6 L381.5 161.6 L382.4 162.3 L381.8 163.1 L381.8 164.0 L382.1 164.6 L382.3 166.2 L382.7 166.5 L383.0 167.3 L382.7 168.3 L383.4 169.0 L384.1 170.7 L383.5 171.2 L383.9 172.3 L384.7 173.9 L384.5 174.8 L384.8 176.4 L385.6 177.1 L385.8 178.1 L385.2 178.8 L385.5 180.1 L386.0 180.9 L386.2 181.6 L387.0 182.1 L387.2 183.5 L387.9 184.4 L387.8 185.1 L387.9 185.7 L388.4 186.9 L388.1 187.9 L388.8 189.5 L389.3 189.9 L388.8 191.2 L389.7 192.4 L389.9 193.0 L389.7 193.9 L390.1 194.6 L390.1 195.6 L390.4 197.0 L390.8 197.7 L390.5 198.2 L391.2 199.0 L391.6 201.4 L390.9 201.8 L391.2 202.9 L392.0 203.5 L391.9 204.2 L392.0 205.6 L392.2 206.2 L392.3 206.9 L392.8 207.8 L392.8 208.7 L393.1 209.6 L393.6 210.3 L393.4 211.7 L394.2 212.4 L393.5 213.4 L395.0 214.0 L394.2 215.1 L395.0 215.9 L395.3 217.1 L395.2 217.9 L395.7 218.7 L395.7 219.4 L395.4 220.2 L396.3 221.1 L396.7 222.1 L396.5 223.0 L396.5 223.7 L397.0 225.2 L397.8 226.1 L398.3 227.2 L398.8 229.1 L398.4 230.1 L400.0 230.4 L399.7 231.6 L400.3 232.1 L400.4 233.2 L400.9 234.0 L403.0 235.9 L403.3 236.5 L404.3 237.1 L404.3 238.1 L405.2 238.7 L405.7 239.3 L406.7 239.9 L407.1 240.5 L408.0 241.0 L408.8 241.6 L409.0 242.3 L410.2 242.6 L410.7 243.3 L411.4 243.5 L413.7 245.0 L414.7 245.3 L417.3 246.5 L423.3 248.2 L428.7 249.3 L434.9 249.5 L441.2 249.5 L447.5 249.5 L453.7 249.5 L460.0 249.5 L466.3 249.5 L472.6 249.5 L478.9 249.5 L485.2 249.5 L491.5 249.5 L497.8 249.5 L504.1 249.5 L510.5 249.5 L516.8 249.5 L523.2 249.5 L529.6 249.5 L536.0 249.5 L542.4 249.5 L548.8 249.5 L549.7 249.5" stroke="#b8958f" stroke-width="1.4"/>
<line x1="490" y1="218.6" x2="596.5" y2="218.6" stroke="#d04a5c" stroke-width="2.2"/>
<line x1="440" y1="249.5" x2="549.5" y2="249.5" stroke="#b08c92" stroke-width="1.6"/>
</g>
<g id="panelAtext">
<text x="63.6" y="265.0" font-size="10.3" font-weight="bold" text-anchor="middle">10<tspan font-size="6.3" dy="-3.8">0</tspan></text>
<text x="112.2" y="265.0" font-size="10.3" font-weight="bold" text-anchor="middle">10<tspan font-size="6.3" dy="-3.8">1</tspan></text>
<text x="160.9" y="265.0" font-size="10.3" font-weight="bold" text-anchor="middle">10<tspan font-size="6.3" dy="-3.8">2</tspan></text>
<text x="209.5" y="265.0" font-size="10.3" font-weight="bold" text-anchor="middle">10<tspan font-size="6.3" dy="-3.8">3</tspan></text>
<text x="258.2" y="265.0" font-size="10.3" font-weight="bold" text-anchor="middle">10<tspan font-size="6.3" dy="-3.8">4</tspan></text>
<text x="349.3" y="264.3" font-size="10.3" font-weight="bold" text-anchor="middle">10<tspan font-size="6.3" dy="-3.8">0</tspan></text>
<text x="399.4" y="264.3" font-size="10.3" font-weight="bold" text-anchor="middle">10<tspan font-size="6.3" dy="-3.8">1</tspan></text>
<text x="449.6" y="264.3" font-size="10.3" font-weight="bold" text-anchor="middle">10<tspan font-size="6.3" dy="-3.8">2</tspan></text>
<text x="499.8" y="264.3" font-size="10.3" font-weight="bold" text-anchor="middle">10<tspan font-size="6.3" dy="-3.8">3</tspan></text>
<text x="549.9" y="264.3" font-size="10.3" font-weight="bold" text-anchor="middle">10<tspan font-size="6.3" dy="-3.8">4</tspan></text>
<text x="5" y="19.5" font-size="21" font-weight="bold">A</text>
<text x="177.7" y="29.8" font-size="17.6" text-anchor="middle">HepG2 (+)</text>
<text x="462.5" y="29.8" font-size="17.6" text-anchor="middle">Huh7 (-)</text>
<text transform="translate(49.1 155.6) rotate(-90)" font-size="14.65" text-anchor="middle">FSC-H</text>
<text x="291.3" y="289.2" font-size="15.2">CD146</text>
<path d="M44.05 127.5V57 M43 186.8V282.2H283.5" fill="none" stroke="#000" stroke-width="2.15"/>
<path d="M44.05 51.3l-5.2 10.4l5.2 -3.6l5.2 3.6z" fill="#000"/>
<path d="M342.5 283.05H610" fill="none" stroke="#000" stroke-width="2.1"/>
<path d="M616.6 283.05l-10 -5.1l3.6 5.1l-3.6 5.1z" fill="#000"/>
<line x1="463" y1="61.0" x2="484" y2="61.0" stroke="#b08c84" stroke-width="2.6"/>
<text x="488.6" y="64.6" font-size="10">Control</text>
<line x1="463" y1="73.2" x2="484" y2="73.2" stroke="#0f5a12" stroke-width="2.6"/>
<text x="488.6" y="76.8" font-size="10">5 µg/ml Df-YY146-ZW800</text>
<line x1="463" y1="85.4" x2="484" y2="85.4" stroke="#5fe23a" stroke-width="2.6"/>
<text x="488.6" y="89.0" font-size="10">25 µg/ml Df-YY146-ZW800</text>
<line x1="463" y1="97.6" x2="484" y2="97.6" stroke="#f39a35" stroke-width="2.6"/>
<text x="488.6" y="101.2" font-size="10">5 µg/ml YY146</text>
<line x1="463" y1="109.8" x2="484" y2="109.8" stroke="#1fa4e6" stroke-width="2.6"/>
<text x="488.6" y="113.4" font-size="10">25 µg/ml YY146</text>
<line x1="463" y1="122.0" x2="484" y2="122.0" stroke="#e8141c" stroke-width="2.6"/>
<text x="488.6" y="125.6" font-size="10">2<tspan font-size="6" dy="-3.6">nd</tspan><tspan dy="3.6"> mAb only</tspan></text>
</g>
<g id="panelB">
<defs>
<filter id="b1" x="-20%" y="-80%" width="140%" height="260%"><feGaussianBlur stdDeviation="0.9"/></filter>
<filter id="b2" x="-20%" y="-80%" width="140%" height="260%"><feGaussianBlur stdDeviation="1.6"/></filter>
<filter id="b4" x="-30%" y="-60%" width="160%" height="220%"><feGaussianBlur stdDeviation="5"/></filter>
<linearGradient id="blotbg" x1="0" x2="1" y1="0" y2="0"><stop offset="0" stop-color="#d9d9d9"/><stop offset="0.33" stop-color="#e3e3e3"/><stop offset="0.45" stop-color="#ececec"/><stop offset="0.8" stop-color="#e8e8e8"/><stop offset="1" stop-color="#dedede"/></linearGradient>
<clipPath id="blotclip"><rect x="59" y="348.5" width="135.5" height="191"/></clipPath>
</defs>
<rect x="59" y="348.5" width="135.5" height="191" fill="url(#blotbg)"/>
<g clip-path="url(#blotclip)">
<rect x="58" y="340" width="50" height="210" fill="#c4c4c4" opacity="0.6" filter="url(#b4)"/>
<rect x="154" y="350" width="36" height="34" fill="#bdbdbd" opacity="0.55" filter="url(#b4)"/>
<rect x="116" y="350" width="30" height="28" fill="#cccccc" opacity="0.4" filter="url(#b4)"/>
<rect x="60.5" y="354.5" width="41.0" height="4.2" rx="2.1" fill="#0c0c0c" filter="url(#b1)"/>
<rect x="61.0" y="363.9" width="40.0" height="1.2" rx="0.6" fill="#9a9a9a" filter="url(#b1)"/>
<rect x="60.5" y="371.1" width="41.0" height="2.2" rx="1.1" fill="#101010" filter="url(#b1)"/>
<rect x="60.5" y="380.4" width="41.5" height="3.6" rx="1.8" fill="#0c0c0c" filter="url(#b1)"/>
<rect x="62.0" y="401.5" width="41.5" height="3.6" rx="1.8" fill="#0c0c0c" filter="url(#b1)"/>
<rect x="61.5" y="421.8" width="44.0" height="11.5" rx="3.5" fill="#050505" filter="url(#b1)"/>
<rect x="64.0" y="448.4" width="42.5" height="5.8" rx="2.9" fill="#080808" filter="url(#b1)"/>
<rect x="66.5" y="484.8" width="43.5" height="8.0" rx="3.5" fill="#0a0a0a" filter="url(#b1)"/>
<rect x="68.0" y="503.0" width="42.0" height="6.0" rx="3.0" fill="#3a3a3a" filter="url(#b1)"/>
<rect x="68.0" y="522.7" width="43.0" height="8.6" rx="3.5" fill="#080808" filter="url(#b1)"/>
<rect x="115" y="378.9" width="27.5" height="1.5" fill="#8c8c8c" filter="url(#b1)"/>
<ellipse cx="135" cy="391" rx="6" ry="2" fill="#c4c4c4" filter="url(#b2)"/>
<path d="M116.6 459.3 Q118.2 462.6 122 463 Q133 464 144.5 463 Q148.2 462.6 149.8 459.3 L150.2 462.5 Q149.5 468.3 143 468.6 Q133 469.3 123.5 468.6 Q117 468.3 116.3 462.5 Z" fill="#0a0a0a" stroke="#0a0a0a" stroke-width="0.8" filter="url(#b1)"/>
<path d="M153.3 458.8 Q155 463.4 160 464 Q172 465.2 184 464 Q189 463.4 190.8 458.8 L191.2 462.5 Q190.5 472 183 472.8 Q172 473.8 161 472.8 Q154 472 153 462.5 Z" fill="#070707" stroke="#070707" stroke-width="0.8" filter="url(#b1)"/>
<path d="M153.5 386 Q153 382.5 156 383 Q158 387.5 163 388 H181 Q186 387.5 187.8 382.5 Q190.5 382.5 190.3 387 V396 Q189.5 401.5 183 401.8 H161 Q154 401.5 153.5 396 Z" fill="#050505" stroke="#050505" stroke-width="1" filter="url(#b1)"/>
<rect x="160" y="384.3" width="24" height="2.2" fill="#777" filter="url(#b1)"/>
</g>
<text x="5" y="323.8" font-size="20" font-weight="bold">B</text>
<text x="24" y="342.4" font-size="16.7">kDa</text>
<text x="79.0" y="342" font-size="14.6" text-anchor="middle">(1)</text>
<text x="125.8" y="342" font-size="14.6" text-anchor="middle">(2)</text>
<text x="169.0" y="342" font-size="14.6" text-anchor="middle">(3)</text>
<text x="53.2" y="362.3" font-size="12.7" text-anchor="end">260</text>
<text x="53.2" y="376.4" font-size="12.7" text-anchor="end">160</text>
<text x="53.2" y="388.2" font-size="12.7" text-anchor="end">125</text>
<text x="53.2" y="407.8" font-size="12.7" text-anchor="end">90</text>
<text x="53.2" y="432.9" font-size="12.7" text-anchor="end">70</text>
<text x="53.2" y="457.4" font-size="12.7" text-anchor="end">50</text>
<text x="53.2" y="494.3" font-size="12.7" text-anchor="end">38</text>
<text x="53.2" y="511.9" font-size="12.7" text-anchor="end">30</text>
<text x="53.2" y="533.1" font-size="12.7" text-anchor="end">25</text>
<path d="M205 390.2H219.6" stroke="#0808d0" stroke-width="3" fill="none"/>
<path d="M197.8 390.2l9.2 -5v10z" fill="#0808d0"/>
<path d="M205 464.0H219.6" stroke="#0808d0" stroke-width="3" fill="none"/>
<path d="M197.8 464.0l9.2 -5v10z" fill="#0808d0"/>
<text x="223.3" y="395.9" font-size="16.6" textLength="53.2" lengthAdjust="spacingAndGlyphs">CD146</text>
<text x="223.3" y="469.1" font-size="16.6" textLength="51" lengthAdjust="spacingAndGlyphs">β-actin</text>
</g>
<g id="panelC">
<defs>
<filter id="c1" x="-30%" y="-30%" width="160%" height="160%"><feGaussianBlur stdDeviation="0.95"/></filter>
<filter id="c2" x="-30%" y="-30%" width="160%" height="160%"><feGaussianBlur stdDeviation="1.5"/></filter>
<clipPath id="cc00"><rect x="358.9" y="342.0" width="86.0" height="86.2"/></clipPath>
<clipPath id="cc01"><rect x="358.9" y="432.3" width="86.0" height="86.2"/></clipPath>
<clipPath id="cc10"><rect x="448.6" y="342.0" width="86.0" height="86.2"/></clipPath>
<clipPath id="cc11"><rect x="448.6" y="432.3" width="86.0" height="86.2"/></clipPath>
<clipPath id="cc20"><rect x="539.0" y="342.0" width="86.0" height="86.2"/></clipPath>
<clipPath id="cc21"><rect x="539.0" y="432.3" width="86.0" height="86.2"/></clipPath>
</defs>
<rect x="358.9" y="342.0" width="86.0" height="86.2" fill="#020202"/>
<rect x="358.9" y="432.3" width="86.0" height="86.2" fill="#020202"/>
<rect x="448.6" y="342.0" width="86.0" height="86.2" fill="#020202"/>
<rect x="448.6" y="432.3" width="86.0" height="86.2" fill="#020202"/>
<rect x="539.0" y="342.0" width="86.0" height="86.2" fill="#020202"/>
<rect x="539.0" y="432.3" width="86.0" height="86.2" fill="#020202"/>
<g clip-path="url(#cc00)"><g filter="url(#c1)"><path d="M378.5 341.5Q384.9 340.6 386.2 345.2Q387.6 349.7 385.8 355.2Q384.0 360.6 379.0 359.7Q374.0 358.8 372.3 355.2Q370.7 351.5 371.4 347.0Q372.2 342.5 378.5 341.5Z" fill="rgb(7,78,9)" fill-opacity="0.9" stroke="rgb(41,165,41)" stroke-width="1.0"/>
<path d="M386.7 342.7Q391.2 343.1 392.4 347.7Q393.6 352.2 389.2 352.0Q384.9 351.8 383.5 347.0Q382.1 342.2 386.7 342.7Z" fill="rgb(7,72,8)" fill-opacity="0.9" stroke="rgb(38,154,38)" stroke-width="1.0"/>
<path d="M387.8 350.4Q392.0 350.6 393.1 355.0Q394.2 359.3 391.8 361.8Q389.3 364.4 386.0 362.8Q382.6 361.1 383.1 355.7Q383.5 350.2 387.8 350.4Z" fill="rgb(9,98,11)" fill-opacity="0.9" stroke="rgb(52,209,52)" stroke-width="1.0"/>
<path d="M387.8 362.3Q391.9 362.8 393.8 365.5Q395.8 368.2 393.4 370.8Q390.9 373.3 387.6 371.0Q384.2 368.6 384.0 365.2Q383.7 361.9 387.8 362.3Z" fill="rgb(8,83,9)" fill-opacity="0.9" stroke="rgb(44,176,44)" stroke-width="1.0"/>
<path d="M396.3 363.9Q400.9 361.7 403.6 363.5Q406.3 365.3 403.8 369.2Q401.2 373.1 397.2 373.5Q393.2 373.8 392.5 370.0Q391.8 366.2 396.3 363.9Z" fill="rgb(8,88,10)" fill-opacity="0.9" stroke="rgb(46,187,46)" stroke-width="1.0"/>
<path d="M401.4 357.7Q405.1 351.8 410.2 349.8Q415.4 347.8 415.6 351.4Q415.8 355.1 412.2 359.1Q408.5 363.1 405.8 365.8Q403.1 368.5 400.4 366.1Q397.8 363.6 401.4 357.7Z" fill="rgb(8,83,9)" fill-opacity="0.9" stroke="rgb(44,176,44)" stroke-width="1.0"/>
<path d="M416.2 356.1Q420.4 354.5 423.4 356.5Q426.3 358.5 425.3 362.2Q424.4 365.8 420.6 366.4Q416.8 367.1 414.8 364.6Q412.8 362.2 412.4 359.9Q411.9 357.6 416.2 356.1Z" fill="rgb(8,88,10)" fill-opacity="0.9" stroke="rgb(46,187,46)" stroke-width="1.0"/>
<path d="M420.0 364.2Q424.3 363.3 427.6 365.6Q431.0 367.8 430.1 371.2Q429.2 374.5 424.4 374.1Q419.7 373.6 417.3 371.6Q414.8 369.6 415.3 367.4Q415.7 365.1 420.0 364.2Z" fill="rgb(8,88,10)" fill-opacity="0.9" stroke="rgb(46,187,46)" stroke-width="1.0"/>
<path d="M363.4 375.7Q367.6 374.6 370.1 378.0Q372.5 381.3 371.4 385.6Q370.4 389.9 366.3 390.8Q362.2 391.7 360.6 388.3Q359.1 385.0 359.1 380.9Q359.1 376.8 363.4 375.7Z" fill="rgb(8,83,9)" fill-opacity="0.9" stroke="rgb(44,176,44)" stroke-width="1.0"/>
<path d="M371.9 382.1Q373.9 382.5 373.9 384.7Q373.9 386.9 371.9 386.9Q369.9 386.9 369.9 384.2Q369.9 381.6 371.9 382.1Z" fill="rgb(6,62,7)" fill-opacity="0.9" stroke="rgb(33,132,33)" stroke-width="1.0"/>
<path d="M375.5 380.9Q380.0 379.3 383.8 380.9Q387.6 382.4 387.6 386.7Q387.6 390.9 384.7 393.0Q381.8 395.1 378.2 393.0Q374.6 390.9 372.7 386.7Q370.9 382.4 375.5 380.9Z" fill="rgb(9,93,10)" fill-opacity="0.9" stroke="rgb(49,198,49)" stroke-width="1.0"/>
<path d="M417.2 381.9Q421.9 379.9 424.8 381.9Q427.7 383.9 427.3 387.7Q426.8 391.5 423.5 394.7Q420.1 397.9 416.8 396.0Q413.4 394.2 412.9 389.1Q412.5 383.9 417.2 381.9Z" fill="rgb(8,83,9)" fill-opacity="0.9" stroke="rgb(44,176,44)" stroke-width="1.0"/>
<path d="M429.4 376.4Q434.1 374.8 436.6 378.2Q439.0 381.5 437.6 385.3Q436.3 389.2 431.6 388.3Q426.8 387.3 425.8 382.6Q424.7 377.9 429.4 376.4Z" fill="rgb(8,88,10)" fill-opacity="0.9" stroke="rgb(46,187,46)" stroke-width="1.0"/>
<path d="M425.1 388.2Q429.6 386.2 432.1 389.6Q434.5 392.9 432.1 395.8Q429.6 398.8 426.0 398.3Q422.4 397.8 421.5 394.0Q420.6 390.2 425.1 388.2Z" fill="rgb(8,88,10)" fill-opacity="0.9" stroke="rgb(46,187,46)" stroke-width="1.0"/>
<path d="M437.3 382.8Q441.1 384.7 442.0 390.1Q442.9 395.5 440.6 398.5Q438.3 401.4 435.0 401.9Q431.6 402.4 429.6 401.0Q427.6 399.5 430.5 395.7Q433.4 391.9 433.4 386.5Q433.4 381.0 437.3 382.8Z" fill="rgb(10,104,12)" fill-opacity="0.9" stroke="rgb(55,220,55)" stroke-width="1.0"/>
<path d="M431.0 397.4Q433.9 397.0 436.8 398.3Q439.7 399.7 437.7 401.7Q435.7 403.7 432.5 403.3Q429.3 403.0 428.7 400.4Q428.1 397.9 431.0 397.4Z" fill="rgb(9,93,10)" fill-opacity="0.9" stroke="rgb(49,198,49)" stroke-width="1.0"/>
<path d="M404.0 393.6Q407.3 394.5 411.1 397.0Q415.0 399.4 414.5 403.2Q414.1 407.1 410.7 408.4Q407.3 409.8 404.9 408.9Q402.4 408.0 403.1 403.7Q403.7 399.4 402.2 396.1Q400.6 392.7 404.0 393.6Z" fill="rgb(8,88,10)" fill-opacity="0.9" stroke="rgb(46,187,46)" stroke-width="1.0"/>
<path d="M420.5 402.9Q425.2 403.4 427.2 405.8Q429.2 408.3 426.3 410.7Q423.4 413.2 420.5 411.3Q417.6 409.5 416.7 406.0Q415.8 402.5 420.5 402.9Z" fill="rgb(5,52,6)" fill-opacity="0.9" stroke="rgb(27,110,27)" stroke-width="1.0"/>
<path d="M438.2 406.3Q442.2 407.2 442.2 410.8Q442.2 414.3 439.7 415.2Q437.3 416.1 435.7 410.8Q434.2 405.4 438.2 406.3Z" fill="rgb(4,46,5)" fill-opacity="0.9" stroke="rgb(24,99,24)" stroke-width="1.0"/>
<path d="M393.8 415.3Q399.0 414.2 404.1 415.8Q409.3 417.3 409.8 420.0Q410.2 422.8 405.5 424.3Q400.8 425.8 398.1 427.2Q395.3 428.6 392.9 425.7Q390.4 422.8 389.5 419.6Q388.6 416.4 393.8 415.3Z" fill="rgb(8,83,9)" fill-opacity="0.9" stroke="rgb(44,176,44)" stroke-width="1.0"/>
<path d="M403.5 423.3Q408.0 421.8 412.7 423.6Q417.5 425.4 417.9 427.2Q418.4 429.0 408.6 429.0Q398.9 429.0 398.9 427.0Q398.9 424.9 403.5 423.3Z" fill="rgb(7,78,9)" fill-opacity="0.9" stroke="rgb(41,165,41)" stroke-width="1.0"/></g></g>
<g clip-path="url(#cc10)"><g filter="url(#c2)"><circle cx="473.6" cy="346.8" r="3.7" fill="rgb(8,8,112)"/>
<circle cx="481.1" cy="355.2" r="3.7" fill="rgb(18,18,250)"/>
<circle cx="472.0" cy="360.5" r="3.7" fill="rgb(14,14,200)"/>
<circle cx="476.6" cy="352.1" r="3.7" fill="rgb(10,10,150)"/>
<circle cx="482.6" cy="367.3" r="3.7" fill="rgb(18,18,250)"/>
<circle cx="489.4" cy="368.0" r="3.7" fill="rgb(18,18,250)"/>
<circle cx="497.0" cy="359.7" r="3.7" fill="rgb(16,16,225)"/>
<circle cx="503.8" cy="360.5" r="3.7" fill="rgb(12,12,175)"/>
<circle cx="510.6" cy="359.7" r="3.7" fill="rgb(18,18,250)"/>
<circle cx="507.6" cy="367.3" r="3.7" fill="rgb(14,14,200)"/>
<circle cx="514.4" cy="368.8" r="3.7" fill="rgb(16,16,225)"/>
<circle cx="455.4" cy="382.4" r="3.7" fill="rgb(18,18,250)"/>
<circle cx="462.2" cy="382.4" r="3.7" fill="rgb(18,18,250)"/>
<circle cx="469.8" cy="386.2" r="3.7" fill="rgb(14,14,200)"/>
<circle cx="475.8" cy="386.9" r="3.7" fill="rgb(14,14,200)"/>
<circle cx="472.8" cy="381.6" r="3.7" fill="rgb(12,12,175)"/>
<circle cx="507.6" cy="387.7" r="3.7" fill="rgb(16,16,225)"/>
<circle cx="509.9" cy="392.2" r="3.7" fill="rgb(14,14,200)"/>
<circle cx="516.7" cy="386.2" r="3.7" fill="rgb(14,14,200)"/>
<circle cx="523.5" cy="381.6" r="3.7" fill="rgb(14,14,200)"/>
<circle cx="519.7" cy="390.0" r="3.7" fill="rgb(14,14,200)"/>
<circle cx="526.5" cy="391.5" r="3.7" fill="rgb(16,16,225)"/>
<circle cx="523.5" cy="397.5" r="3.7" fill="rgb(18,18,250)"/>
<circle cx="519.7" cy="399.8" r="3.7" fill="rgb(16,16,225)"/>
<circle cx="497.0" cy="399.8" r="3.7" fill="rgb(14,14,200)"/>
<circle cx="500.8" cy="402.8" r="3.7" fill="rgb(14,14,200)"/>
<circle cx="497.8" cy="404.0" r="3.7" fill="rgb(12,12,175)"/>
<circle cx="511.4" cy="406.6" r="3.7" fill="rgb(16,16,225)"/>
<circle cx="527.3" cy="410.4" r="3.7" fill="rgb(14,14,200)"/>
<circle cx="484.9" cy="422.5" r="3.7" fill="rgb(14,14,200)"/>
<circle cx="492.5" cy="420.2" r="3.7" fill="rgb(16,16,225)"/>
<circle cx="498.5" cy="426.3" r="3.7" fill="rgb(14,14,200)"/>
<circle cx="487.9" cy="386.2" r="3.7" fill="rgb(4,4,62)"/>
<circle cx="533.3" cy="386.2" r="3.7" fill="rgb(7,7,100)"/></g></g>
<g clip-path="url(#cc20)"><g filter="url(#c1)"><path d="M558.6 341.5Q565.0 340.6 566.3 345.2Q567.7 349.7 565.9 355.2Q564.1 360.6 559.1 359.7Q554.1 358.8 552.4 355.2Q550.8 351.5 551.5 347.0Q552.3 342.5 558.6 341.5Z" fill="rgb(6,52,112)" fill-opacity="0.9" stroke="rgb(30,153,82)" stroke-width="0.9"/>
<path d="M566.8 342.7Q571.3 343.1 572.5 347.7Q573.7 352.2 569.3 352.0Q565.0 351.8 563.6 347.0Q562.2 342.2 566.8 342.7Z" fill="rgb(5,49,105)" fill-opacity="0.9" stroke="rgb(28,143,77)" stroke-width="0.9"/>
<path d="M567.9 350.4Q572.1 350.6 573.2 355.0Q574.3 359.3 571.9 361.8Q569.4 364.4 566.1 362.8Q562.7 361.1 563.2 355.7Q563.6 350.2 567.9 350.4Z" fill="rgb(7,66,142)" fill-opacity="0.9" stroke="rgb(38,194,104)" stroke-width="0.9"/>
<path d="M567.9 362.3Q572.0 362.8 573.9 365.5Q575.9 368.2 573.5 370.8Q571.0 373.3 567.7 371.0Q564.3 368.6 564.1 365.2Q563.8 361.9 567.9 362.3Z" fill="rgb(6,56,120)" fill-opacity="0.9" stroke="rgb(32,164,88)" stroke-width="0.9"/>
<path d="M576.4 363.9Q581.0 361.7 583.7 363.5Q586.4 365.3 583.9 369.2Q581.3 373.1 577.3 373.5Q573.3 373.8 572.6 370.0Q571.9 366.2 576.4 363.9Z" fill="rgb(6,59,127)" fill-opacity="0.9" stroke="rgb(34,174,93)" stroke-width="0.9"/>
<path d="M581.5 357.7Q585.2 351.8 590.3 349.8Q595.5 347.8 595.7 351.4Q595.9 355.1 592.3 359.1Q588.6 363.1 585.9 365.8Q583.2 368.5 580.5 366.1Q577.9 363.6 581.5 357.7Z" fill="rgb(6,56,120)" fill-opacity="0.9" stroke="rgb(32,164,88)" stroke-width="0.9"/>
<path d="M596.3 356.1Q600.5 354.5 603.5 356.5Q606.4 358.5 605.4 362.2Q604.5 365.8 600.7 366.4Q596.9 367.1 594.9 364.6Q592.9 362.2 592.5 359.9Q592.0 357.6 596.3 356.1Z" fill="rgb(6,59,127)" fill-opacity="0.9" stroke="rgb(34,174,93)" stroke-width="0.9"/>
<path d="M600.1 364.2Q604.4 363.3 607.7 365.6Q611.1 367.8 610.2 371.2Q609.3 374.5 604.5 374.1Q599.8 373.6 597.4 371.6Q594.9 369.6 595.4 367.4Q595.8 365.1 600.1 364.2Z" fill="rgb(6,59,127)" fill-opacity="0.9" stroke="rgb(34,174,93)" stroke-width="0.9"/>
<path d="M543.5 375.7Q547.7 374.6 550.2 378.0Q552.6 381.3 551.5 385.6Q550.5 389.9 546.4 390.8Q542.3 391.7 540.7 388.3Q539.2 385.0 539.2 380.9Q539.2 376.8 543.5 375.7Z" fill="rgb(6,56,120)" fill-opacity="0.9" stroke="rgb(32,164,88)" stroke-width="0.9"/>
<path d="M552.0 382.1Q554.0 382.5 554.0 384.7Q554.0 386.9 552.0 386.9Q550.0 386.9 550.0 384.2Q550.0 381.6 552.0 382.1Z" fill="rgb(4,42,90)" fill-opacity="0.9" stroke="rgb(24,123,66)" stroke-width="0.9"/>
<path d="M555.6 380.9Q560.1 379.3 563.9 380.9Q567.7 382.4 567.7 386.7Q567.7 390.9 564.8 393.0Q561.9 395.1 558.3 393.0Q554.7 390.9 552.8 386.7Q551.0 382.4 555.6 380.9Z" fill="rgb(7,63,135)" fill-opacity="0.9" stroke="rgb(36,184,99)" stroke-width="0.9"/>
<path d="M597.3 381.9Q602.0 379.9 604.9 381.9Q607.8 383.9 607.4 387.7Q606.9 391.5 603.6 394.7Q600.2 397.9 596.9 396.0Q593.5 394.2 593.0 389.1Q592.6 383.9 597.3 381.9Z" fill="rgb(6,56,120)" fill-opacity="0.9" stroke="rgb(32,164,88)" stroke-width="0.9"/>
<path d="M609.5 376.4Q614.2 374.8 616.7 378.2Q619.1 381.5 617.7 385.3Q616.4 389.2 611.7 388.3Q606.9 387.3 605.9 382.6Q604.8 377.9 609.5 376.4Z" fill="rgb(6,59,127)" fill-opacity="0.9" stroke="rgb(34,174,93)" stroke-width="0.9"/>
<path d="M605.2 388.2Q609.7 386.2 612.2 389.6Q614.6 392.9 612.2 395.8Q609.7 398.8 606.1 398.3Q602.5 397.8 601.6 394.0Q600.7 390.2 605.2 388.2Z" fill="rgb(6,59,127)" fill-opacity="0.9" stroke="rgb(34,174,93)" stroke-width="0.9"/>
<path d="M617.4 382.8Q621.2 384.7 622.1 390.1Q623.0 395.5 620.7 398.5Q618.4 401.4 615.1 401.9Q611.7 402.4 609.7 401.0Q607.7 399.5 610.6 395.7Q613.5 391.9 613.5 386.5Q613.5 381.0 617.4 382.8Z" fill="rgb(8,70,150)" fill-opacity="0.9" stroke="rgb(40,205,110)" stroke-width="0.9"/>
<path d="M611.1 397.4Q614.0 397.0 616.9 398.3Q619.8 399.7 617.8 401.7Q615.8 403.7 612.6 403.3Q609.4 403.0 608.8 400.4Q608.2 397.9 611.1 397.4Z" fill="rgb(7,63,135)" fill-opacity="0.9" stroke="rgb(36,184,99)" stroke-width="0.9"/>
<path d="M584.1 393.6Q587.4 394.5 591.2 397.0Q595.1 399.4 594.6 403.2Q594.2 407.1 590.8 408.4Q587.4 409.8 585.0 408.9Q582.5 408.0 583.2 403.7Q583.8 399.4 582.3 396.1Q580.7 392.7 584.1 393.6Z" fill="rgb(6,59,127)" fill-opacity="0.9" stroke="rgb(34,174,93)" stroke-width="0.9"/>
<path d="M600.6 402.9Q605.3 403.4 607.3 405.8Q609.3 408.3 606.4 410.7Q603.5 413.2 600.6 411.3Q597.7 409.5 596.8 406.0Q595.9 402.5 600.6 402.9Z" fill="rgb(4,35,75)" fill-opacity="0.9" stroke="rgb(20,102,55)" stroke-width="0.9"/>
<path d="M618.3 406.3Q622.3 407.2 622.3 410.8Q622.3 414.3 619.8 415.2Q617.4 416.1 615.8 410.8Q614.3 405.4 618.3 406.3Z" fill="rgb(3,31,67)" fill-opacity="0.9" stroke="rgb(18,92,49)" stroke-width="0.9"/>
<path d="M573.9 415.3Q579.1 414.2 584.2 415.8Q589.4 417.3 589.9 420.0Q590.3 422.8 585.6 424.3Q580.9 425.8 578.2 427.2Q575.4 428.6 573.0 425.7Q570.5 422.8 569.6 419.6Q568.7 416.4 573.9 415.3Z" fill="rgb(6,56,120)" fill-opacity="0.9" stroke="rgb(32,164,88)" stroke-width="0.9"/>
<path d="M583.6 423.3Q588.1 421.8 592.8 423.6Q597.6 425.4 598.0 427.2Q598.5 429.0 588.7 429.0Q579.0 429.0 579.0 427.0Q579.0 424.9 583.6 423.3Z" fill="rgb(6,52,112)" fill-opacity="0.9" stroke="rgb(30,153,82)" stroke-width="0.9"/></g><g filter="url(#c2)"><circle cx="564.0" cy="346.8" r="3.9" fill="rgb(9,38,110)"/>
<circle cx="571.5" cy="355.2" r="3.9" fill="rgb(20,85,245)"/>
<circle cx="562.4" cy="360.5" r="3.9" fill="rgb(16,68,196)"/>
<circle cx="567.0" cy="352.1" r="3.9" fill="rgb(12,51,147)"/>
<circle cx="573.0" cy="367.3" r="3.9" fill="rgb(20,85,245)"/>
<circle cx="579.8" cy="368.0" r="3.9" fill="rgb(20,85,245)"/>
<circle cx="587.4" cy="359.7" r="3.9" fill="rgb(18,76,220)"/>
<circle cx="594.2" cy="360.5" r="3.9" fill="rgb(14,59,171)"/>
<circle cx="601.0" cy="359.7" r="3.9" fill="rgb(20,85,245)"/>
<circle cx="598.0" cy="367.3" r="3.9" fill="rgb(16,68,196)"/>
<circle cx="604.8" cy="368.8" r="3.9" fill="rgb(18,76,220)"/>
<circle cx="545.8" cy="382.4" r="3.9" fill="rgb(20,85,245)"/>
<circle cx="552.6" cy="382.4" r="3.9" fill="rgb(20,85,245)"/>
<circle cx="560.2" cy="386.2" r="3.9" fill="rgb(16,68,196)"/>
<circle cx="566.2" cy="386.9" r="3.9" fill="rgb(16,68,196)"/>
<circle cx="563.2" cy="381.6" r="3.9" fill="rgb(14,59,171)"/>
<circle cx="598.0" cy="387.7" r="3.9" fill="rgb(18,76,220)"/>
<circle cx="600.3" cy="392.2" r="3.9" fill="rgb(16,68,196)"/>
<circle cx="607.1" cy="386.2" r="3.9" fill="rgb(16,68,196)"/>
<circle cx="613.9" cy="381.6" r="3.9" fill="rgb(16,68,196)"/>
<circle cx="610.1" cy="390.0" r="3.9" fill="rgb(16,68,196)"/>
<circle cx="616.9" cy="391.5" r="3.9" fill="rgb(18,76,220)"/>
<circle cx="613.9" cy="397.5" r="3.9" fill="rgb(20,85,245)"/>
<circle cx="610.1" cy="399.8" r="3.9" fill="rgb(18,76,220)"/>
<circle cx="587.4" cy="399.8" r="3.9" fill="rgb(16,68,196)"/>
<circle cx="591.2" cy="402.8" r="3.9" fill="rgb(16,68,196)"/>
<circle cx="588.2" cy="404.0" r="3.9" fill="rgb(14,59,171)"/>
<circle cx="601.8" cy="406.6" r="3.9" fill="rgb(18,76,220)"/>
<circle cx="617.7" cy="410.4" r="3.9" fill="rgb(16,68,196)"/>
<circle cx="575.3" cy="422.5" r="3.9" fill="rgb(16,68,196)"/>
<circle cx="582.9" cy="420.2" r="3.9" fill="rgb(18,76,220)"/>
<circle cx="588.9" cy="426.3" r="3.9" fill="rgb(16,68,196)"/>
<circle cx="578.3" cy="386.2" r="3.9" fill="rgb(5,21,61)"/>
<circle cx="623.7" cy="386.2" r="3.9" fill="rgb(8,34,98)"/></g></g>
<g clip-path="url(#cc01)"><g filter="url(#c1)"><path d="M387.7 450.5Q390.7 449.8 392.7 452.7Q394.8 455.7 393.4 458.7Q392.1 461.8 389.0 461.4Q385.9 461.0 385.3 456.1Q384.6 451.1 387.7 450.5Z" fill="rgb(3,31,3)" fill-opacity="0.9" stroke="rgb(16,66,16)" stroke-width="1.0"/>
<path d="M387.4 463.0Q390.8 462.3 393.2 465.7Q395.6 469.0 393.8 472.6Q392.1 476.3 388.7 475.7Q385.4 475.2 384.7 469.4Q384.1 463.7 387.4 463.0Z" fill="rgb(3,37,4)" fill-opacity="0.9" stroke="rgb(19,79,19)" stroke-width="1.0"/>
<path d="M399.5 457.6Q402.4 457.0 404.2 460.3Q405.9 463.7 403.9 466.1Q401.9 468.5 399.5 467.4Q397.1 466.3 396.8 462.3Q396.5 458.3 399.5 457.6Z" fill="rgb(3,31,3)" fill-opacity="0.9" stroke="rgb(16,66,16)" stroke-width="1.0"/>
<path d="M400.3 466.6Q404.3 465.9 406.3 469.0Q408.3 472.1 406.0 474.4Q403.8 476.6 400.7 476.0Q397.6 475.3 396.9 471.3Q396.3 467.3 400.3 466.6Z" fill="rgb(3,37,4)" fill-opacity="0.9" stroke="rgb(19,79,19)" stroke-width="1.0"/>
<path d="M393.7 468.2Q397.7 467.8 398.4 470.9Q399.1 473.9 395.7 474.9Q392.4 475.8 391.1 472.2Q389.7 468.6 393.7 468.2Z" fill="rgb(2,29,3)" fill-opacity="0.9" stroke="rgb(15,61,15)" stroke-width="1.0"/>
<path d="M425.1 496.8Q428.7 495.5 431.3 498.2Q434.0 500.8 432.0 504.0Q430.0 507.3 426.4 506.7Q422.8 506.2 422.1 502.2Q421.4 498.2 425.1 496.8Z" fill="rgb(4,43,5)" fill-opacity="0.9" stroke="rgb(23,92,23)" stroke-width="1.0"/></g></g>
<g clip-path="url(#cc11)"><g filter="url(#c1)"><circle cx="479.0" cy="457.5" r="3.0" fill="rgb(13,13,187)"/>
<circle cx="481.6" cy="455.3" r="3.0" fill="rgb(10,10,150)"/>
<circle cx="482.1" cy="468.3" r="3.0" fill="rgb(18,18,250)"/>
<circle cx="490.6" cy="467.8" r="3.0" fill="rgb(18,18,250)"/>
<circle cx="483.1" cy="473.3" r="3.0" fill="rgb(16,16,225)"/>
<circle cx="489.6" cy="471.8" r="3.0" fill="rgb(14,14,200)"/>
<circle cx="515.1" cy="502.7" r="3.0" fill="rgb(18,18,250)"/>
<circle cx="518.1" cy="502.9" r="3.0" fill="rgb(16,16,225)"/></g></g>
<g clip-path="url(#cc21)"><g filter="url(#c1)"><path d="M567.8 450.5Q570.8 449.8 572.8 452.7Q574.9 455.7 573.5 458.7Q572.2 461.8 569.1 461.4Q566.0 461.0 565.4 456.1Q564.7 451.1 567.8 450.5Z" fill="rgb(1,16,36)" fill-opacity="0.9" stroke="rgb(9,49,26)" stroke-width="0.9"/>
<path d="M567.5 463.0Q570.9 462.3 573.3 465.7Q575.7 469.0 573.9 472.6Q572.2 476.3 568.8 475.7Q565.5 475.2 564.8 469.4Q564.2 463.7 567.5 463.0Z" fill="rgb(2,20,43)" fill-opacity="0.9" stroke="rgb(11,59,31)" stroke-width="0.9"/>
<path d="M579.6 457.6Q582.5 457.0 584.3 460.3Q586.0 463.7 584.0 466.1Q582.0 468.5 579.6 467.4Q577.2 466.3 576.9 462.3Q576.6 458.3 579.6 457.6Z" fill="rgb(1,16,36)" fill-opacity="0.9" stroke="rgb(9,49,26)" stroke-width="0.9"/>
<path d="M580.4 466.6Q584.4 465.9 586.4 469.0Q588.4 472.1 586.1 474.4Q583.9 476.6 580.8 476.0Q577.7 475.3 577.0 471.3Q576.4 467.3 580.4 466.6Z" fill="rgb(2,20,43)" fill-opacity="0.9" stroke="rgb(11,59,31)" stroke-width="0.9"/>
<path d="M573.8 468.2Q577.8 467.8 578.5 470.9Q579.2 473.9 575.8 474.9Q572.5 475.8 571.2 472.2Q569.8 468.6 573.8 468.2Z" fill="rgb(1,15,33)" fill-opacity="0.9" stroke="rgb(8,45,24)" stroke-width="0.9"/>
<path d="M605.2 496.8Q608.8 495.5 611.4 498.2Q614.1 500.8 612.1 504.0Q610.1 507.3 606.5 506.7Q602.9 506.2 602.2 502.2Q601.5 498.2 605.2 496.8Z" fill="rgb(2,23,50)" fill-opacity="0.9" stroke="rgb(13,68,36)" stroke-width="0.9"/></g><g filter="url(#c1)"><circle cx="569.4" cy="457.5" r="3.2" fill="rgb(15,41,183)"/>
<circle cx="572.0" cy="455.3" r="3.2" fill="rgb(12,33,147)"/>
<circle cx="572.5" cy="468.3" r="3.2" fill="rgb(20,55,245)"/>
<circle cx="581.0" cy="467.8" r="3.2" fill="rgb(20,55,245)"/>
<circle cx="573.5" cy="473.3" r="3.2" fill="rgb(18,49,220)"/>
<circle cx="580.0" cy="471.8" r="3.2" fill="rgb(16,44,196)"/>
<circle cx="605.5" cy="502.7" r="3.2" fill="rgb(20,55,245)"/>
<circle cx="608.5" cy="502.9" r="3.2" fill="rgb(18,49,220)"/></g></g>
<rect x="358.9" y="518.3" width="86.0" height="21.3" fill="#868686"/>
<text x="401.9" y="533.4" font-size="15" font-weight="bold" fill="#2fe238" text-anchor="middle">CD146</text>
<rect x="448.6" y="518.3" width="86.0" height="21.3" fill="#868686"/>
<text x="491.6" y="533.4" font-size="15" font-weight="bold" fill="#1414dc" text-anchor="middle">DAPI</text>
<rect x="539.0" y="518.3" width="86.0" height="21.3" fill="#868686"/>
<text x="582.0" y="533.4" font-size="15" font-weight="bold" fill="#050505" text-anchor="middle">Merge</text>
<text x="325.2" y="324.6" font-size="21" font-weight="bold">C</text>
<text x="295.2" y="392.6" font-size="16.7">HepG2</text>
<text x="309" y="482.3" font-size="16.5">Huh7</text>
</g>
<g id="panelD">
<path d="M71.80 612.96V756.70H287.55" fill="none" stroke="#000" stroke-width="2.2"/>
<line x1="67.90" y1="756.70" x2="71.80" y2="756.70" stroke="#000" stroke-width="1.5"/>
<line x1="69.10" y1="742.40" x2="71.80" y2="742.40" stroke="#000" stroke-width="1.5"/>
<line x1="67.90" y1="728.09" x2="71.80" y2="728.09" stroke="#000" stroke-width="1.5"/>
<line x1="69.10" y1="713.79" x2="71.80" y2="713.79" stroke="#000" stroke-width="1.5"/>
<line x1="67.90" y1="699.48" x2="71.80" y2="699.48" stroke="#000" stroke-width="1.5"/>
<line x1="69.10" y1="685.18" x2="71.80" y2="685.18" stroke="#000" stroke-width="1.5"/>
<line x1="67.90" y1="670.88" x2="71.80" y2="670.88" stroke="#000" stroke-width="1.5"/>
<line x1="69.10" y1="656.57" x2="71.80" y2="656.57" stroke="#000" stroke-width="1.5"/>
<line x1="67.90" y1="642.27" x2="71.80" y2="642.27" stroke="#000" stroke-width="1.5"/>
<line x1="69.10" y1="627.96" x2="71.80" y2="627.96" stroke="#000" stroke-width="1.5"/>
<line x1="67.90" y1="613.66" x2="71.80" y2="613.66" stroke="#000" stroke-width="1.5"/>
<line x1="71.80" y1="756.70" x2="71.80" y2="760.60" stroke="#000" stroke-width="1.5"/>
<line x1="91.35" y1="756.70" x2="91.35" y2="759.40" stroke="#000" stroke-width="1.5"/>
<line x1="110.90" y1="756.70" x2="110.90" y2="760.60" stroke="#000" stroke-width="1.5"/>
<line x1="130.45" y1="756.70" x2="130.45" y2="759.40" stroke="#000" stroke-width="1.5"/>
<line x1="150.00" y1="756.70" x2="150.00" y2="760.60" stroke="#000" stroke-width="1.5"/>
<line x1="169.55" y1="756.70" x2="169.55" y2="759.40" stroke="#000" stroke-width="1.5"/>
<line x1="189.10" y1="756.70" x2="189.10" y2="760.60" stroke="#000" stroke-width="1.5"/>
<line x1="208.65" y1="756.70" x2="208.65" y2="759.40" stroke="#000" stroke-width="1.5"/>
<line x1="228.20" y1="756.70" x2="228.20" y2="760.60" stroke="#000" stroke-width="1.5"/>
<line x1="247.75" y1="756.70" x2="247.75" y2="759.40" stroke="#000" stroke-width="1.5"/>
<line x1="267.30" y1="756.70" x2="267.30" y2="760.60" stroke="#000" stroke-width="1.5"/>
<line x1="286.85" y1="756.70" x2="286.85" y2="759.40" stroke="#000" stroke-width="1.5"/>
<text x="65.2" y="759.6" font-size="11.2" font-weight="bold" text-anchor="end">0</text>
<text x="71.8" y="772.7" font-size="11.2" font-weight="bold" text-anchor="middle">0</text>
<text x="65.2" y="731.0" font-size="11.2" font-weight="bold" text-anchor="end">20</text>
<text x="110.9" y="772.7" font-size="11.2" font-weight="bold" text-anchor="middle">20</text>
<text x="65.2" y="702.4" font-size="11.2" font-weight="bold" text-anchor="end">40</text>
<text x="150.0" y="772.7" font-size="11.2" font-weight="bold" text-anchor="middle">40</text>
<text x="65.2" y="673.8" font-size="11.2" font-weight="bold" text-anchor="end">60</text>
<text x="189.1" y="772.7" font-size="11.2" font-weight="bold" text-anchor="middle">60</text>
<text x="65.2" y="645.2" font-size="11.2" font-weight="bold" text-anchor="end">80</text>
<text x="228.2" y="772.7" font-size="11.2" font-weight="bold" text-anchor="middle">80</text>
<text x="65.2" y="616.6" font-size="11.2" font-weight="bold" text-anchor="end">100</text>
<text x="267.3" y="772.7" font-size="11.2" font-weight="bold" text-anchor="middle">100</text>
<path d="M71.8 756.7 L72.1 754.1 L72.5 751.8 L72.8 749.5 L73.1 747.4 L73.5 745.5 L73.8 743.6 L74.2 741.9 L74.5 740.3 L74.8 738.7 L75.2 737.2 L75.5 735.8 L75.8 734.5 L76.2 733.2 L76.5 732.0 L76.9 730.9 L77.2 729.8 L77.5 728.7 L77.9 727.7 L78.2 726.7 L78.5 725.8 L78.9 724.9 L79.2 724.0 L79.6 723.2 L79.9 722.4 L80.2 721.6 L80.6 720.8 L80.9 720.1 L81.2 719.4 L81.6 718.7 L82.0 717.9 L84.3 713.9 L86.7 710.5 L89.0 707.5 L91.3 705.0 L93.7 702.8 L96.0 700.8 L98.4 698.9 L100.7 697.2 L103.1 695.7 L105.4 694.2 L107.8 692.8 L110.1 691.5 L112.5 690.3 L114.8 689.1 L117.2 688.0 L119.5 686.9 L121.8 685.8 L124.2 684.8 L126.5 683.8 L128.9 682.8 L131.2 681.9 L133.6 680.9 L135.9 680.0 L138.3 679.1 L140.6 678.3 L143.0 677.4 L145.3 676.5 L147.7 675.7 L150.0 674.9 L152.3 674.1 L154.7 673.2 L157.0 672.4 L159.4 671.6 L161.7 670.9 L164.1 670.1 L166.4 669.3 L168.8 668.5 L171.1 667.8 L173.5 667.0 L175.8 666.3 L178.2 665.5 L180.5 664.8 L182.8 664.1 L185.2 663.3 L187.5 662.6 L189.9 661.9 L192.2 661.1 L194.6 660.4 L196.9 659.7 L199.3 659.0 L201.6 658.3 L204.0 657.6 L206.3 656.8 L208.6 656.1 L211.0 655.4 L213.3 654.7 L215.7 654.0 L218.0 653.3 L220.4 652.6 L222.7 652.0 L225.1 651.3 L227.4 650.6 L229.8 649.9 L232.1 649.2 L234.5 648.5 L236.8 647.8 L239.1 647.1 L241.5 646.4 L243.8 645.8 L246.2 645.1 L248.5 644.4 L250.9 643.7 L253.2 643.0 L255.6 642.4 L257.9 641.7 L260.3 641.0 L262.6 640.3 L265.0 639.7 L267.3 639.0" fill="none" stroke="#0a0acc" stroke-width="1.9"/>
<path d="M267.3 634.7V643.7 M264.5 634.7h5.6 M264.5 643.7h5.6" stroke="#000" stroke-width="1.3" fill="none"/>
<circle cx="71.9" cy="755.6" r="3.1" fill="#0c0ce0"/>
<circle cx="72.4" cy="751.6" r="3.1" fill="#0c0ce0"/>
<circle cx="73.8" cy="741.3" r="3.1" fill="#0c0ce0"/>
<circle cx="77.9" cy="727.8" r="3.1" fill="#0c0ce0"/>
<circle cx="91.2" cy="707.2" r="3.1" fill="#0c0ce0"/>
<circle cx="136.3" cy="676.7" r="3.1" fill="#0c0ce0"/>
<circle cx="267.3" cy="639.4" r="3.1" fill="#0c0ce0"/>
<text x="4.6" y="589.8" font-size="20" font-weight="bold">D</text>
<text x="92.2" y="621" font-size="12" font-weight="bold">K<tspan font-size="9" dy="2.5">d</tspan><tspan dy="-2.5">: 4.54 ± 0.45 nM</tspan></text>
<text x="92.2" y="638" font-size="12" font-weight="bold">B<tspan font-size="9" dy="2.5" letter-spacing="0.8">max</tspan><tspan dy="-2.5">: 47.13 ± 1.56 fmol</tspan></text>
<text transform="translate(38.4 683.7) rotate(-90)" font-size="13.75" font-weight="bold" text-anchor="middle">Bound ligand (fmol)</text>
<text x="179.5" y="790.3" font-size="14" font-weight="bold" text-anchor="middle">Ligand (nM)</text>
</g>
<g id="panelE">
<path d="M404.55 612.90V756.70H620.35" fill="none" stroke="#000" stroke-width="2.2"/>
<line x1="400.65" y1="756.70" x2="404.55" y2="756.70" stroke="#000" stroke-width="1.5"/>
<line x1="401.85" y1="744.78" x2="404.55" y2="744.78" stroke="#000" stroke-width="1.5"/>
<line x1="400.65" y1="732.85" x2="404.55" y2="732.85" stroke="#000" stroke-width="1.5"/>
<line x1="401.85" y1="720.93" x2="404.55" y2="720.93" stroke="#000" stroke-width="1.5"/>
<line x1="400.65" y1="709.00" x2="404.55" y2="709.00" stroke="#000" stroke-width="1.5"/>
<line x1="401.85" y1="697.08" x2="404.55" y2="697.08" stroke="#000" stroke-width="1.5"/>
<line x1="400.65" y1="685.15" x2="404.55" y2="685.15" stroke="#000" stroke-width="1.5"/>
<line x1="401.85" y1="673.23" x2="404.55" y2="673.23" stroke="#000" stroke-width="1.5"/>
<line x1="400.65" y1="661.30" x2="404.55" y2="661.30" stroke="#000" stroke-width="1.5"/>
<line x1="401.85" y1="649.38" x2="404.55" y2="649.38" stroke="#000" stroke-width="1.5"/>
<line x1="400.65" y1="637.45" x2="404.55" y2="637.45" stroke="#000" stroke-width="1.5"/>
<line x1="401.85" y1="625.53" x2="404.55" y2="625.53" stroke="#000" stroke-width="1.5"/>
<line x1="400.65" y1="613.60" x2="404.55" y2="613.60" stroke="#000" stroke-width="1.5"/>
<line x1="404.55" y1="756.70" x2="404.55" y2="760.60" stroke="#000" stroke-width="1.5"/>
<line x1="422.48" y1="756.70" x2="422.48" y2="759.40" stroke="#000" stroke-width="1.5"/>
<line x1="440.40" y1="756.70" x2="440.40" y2="760.60" stroke="#000" stroke-width="1.5"/>
<line x1="458.32" y1="756.70" x2="458.32" y2="759.40" stroke="#000" stroke-width="1.5"/>
<line x1="476.25" y1="756.70" x2="476.25" y2="760.60" stroke="#000" stroke-width="1.5"/>
<line x1="494.18" y1="756.70" x2="494.18" y2="759.40" stroke="#000" stroke-width="1.5"/>
<line x1="512.10" y1="756.70" x2="512.10" y2="760.60" stroke="#000" stroke-width="1.5"/>
<line x1="530.02" y1="756.70" x2="530.02" y2="759.40" stroke="#000" stroke-width="1.5"/>
<line x1="547.95" y1="756.70" x2="547.95" y2="760.60" stroke="#000" stroke-width="1.5"/>
<line x1="565.88" y1="756.70" x2="565.88" y2="759.40" stroke="#000" stroke-width="1.5"/>
<line x1="583.80" y1="756.70" x2="583.80" y2="760.60" stroke="#000" stroke-width="1.5"/>
<line x1="601.73" y1="756.70" x2="601.73" y2="759.40" stroke="#000" stroke-width="1.5"/>
<line x1="619.65" y1="756.70" x2="619.65" y2="760.60" stroke="#000" stroke-width="1.5"/>
<text x="397.6" y="759.6" font-size="11.2" font-weight="bold" text-anchor="end">0</text>
<text x="397.6" y="735.8" font-size="11.2" font-weight="bold" text-anchor="end">20</text>
<text x="397.6" y="711.9" font-size="11.2" font-weight="bold" text-anchor="end">40</text>
<text x="397.6" y="688.1" font-size="11.2" font-weight="bold" text-anchor="end">60</text>
<text x="397.6" y="664.2" font-size="11.2" font-weight="bold" text-anchor="end">80</text>
<text x="397.6" y="640.4" font-size="11.2" font-weight="bold" text-anchor="end">100</text>
<text x="397.6" y="616.5" font-size="11.2" font-weight="bold" text-anchor="end">120</text>
<text x="404.6" y="772.7" font-size="11.2" font-weight="bold" text-anchor="middle">0</text>
<text x="440.4" y="772.7" font-size="11.2" font-weight="bold" text-anchor="middle">5</text>
<text x="476.2" y="772.7" font-size="11.2" font-weight="bold" text-anchor="middle">10</text>
<text x="512.1" y="772.7" font-size="11.2" font-weight="bold" text-anchor="middle">15</text>
<text x="548.0" y="772.7" font-size="11.2" font-weight="bold" text-anchor="middle">20</text>
<text x="583.8" y="772.7" font-size="11.2" font-weight="bold" text-anchor="middle">25</text>
<text x="619.6" y="772.7" font-size="11.2" font-weight="bold" text-anchor="middle">30</text>
<path d="M406.3 631.7V655.3 M403.5 631.7h5.6 M403.5 655.3h5.6" stroke="#000" stroke-width="1.3" fill="none"/>
<circle cx="406.3" cy="643.4" r="3.1" fill="#0c0ce0"/>
<path d="M418.9 615.6V678.9 M416.1 615.6h5.6 M416.1 678.9h5.6" stroke="#000" stroke-width="1.3" fill="none"/>
<circle cx="418.9" cy="647.6" r="3.1" fill="#0c0ce0"/>
<path d="M447.6 640.1V652.4 M444.8 640.1h5.6 M444.8 652.4h5.6" stroke="#000" stroke-width="1.3" fill="none"/>
<circle cx="447.6" cy="646.4" r="3.1" fill="#0c0ce0"/>
<path d="M490.6 637.5V660.5 M487.8 637.5h5.6 M487.8 660.5h5.6" stroke="#000" stroke-width="1.3" fill="none"/>
<circle cx="490.6" cy="649.0" r="3.1" fill="#0c0ce0"/>
<path d="M576.6 649.7V659.6 M573.8 649.7h5.6 M573.8 659.6h5.6" stroke="#000" stroke-width="1.3" fill="none"/>
<circle cx="576.6" cy="654.9" r="3.1" fill="#0c0ce0"/>
<path d="M576.6 735.5V741.4 M573.8 735.5h5.6 M573.8 741.4h5.6" stroke="#000" stroke-width="1.3" fill="none"/>
<rect x="403.2" y="746.9" width="6.2" height="6.2" fill="#e8141c"/>
<rect x="415.8" y="742.6" width="6.2" height="6.2" fill="#e8141c"/>
<rect x="444.5" y="743.6" width="6.2" height="6.2" fill="#e8141c"/>
<rect x="487.5" y="740.7" width="6.2" height="6.2" fill="#e8141c"/>
<rect x="573.5" y="735.2" width="6.2" height="6.2" fill="#e8141c"/>
<circle cx="489.7" cy="603" r="2.8" fill="#0c0ce0"/>
<rect x="486.7" y="617.2" width="5.2" height="5.2" fill="#e8141c"/>
<text x="505" y="608" font-size="13.4">Membrane bound</text>
<text x="505" y="624.7" font-size="13.4">Internalized</text>
<text x="326" y="590" font-size="20" font-weight="bold">E</text>
<text transform="translate(371.6 682.5) rotate(-90)" font-size="13.66" font-weight="bold" text-anchor="middle">Cell associated activity (%)</text>
<text x="512" y="790.3" font-size="13.7" font-weight="bold" text-anchor="middle">Incubation time (h)</text>
</g>
</svg>
</body>
</html>
